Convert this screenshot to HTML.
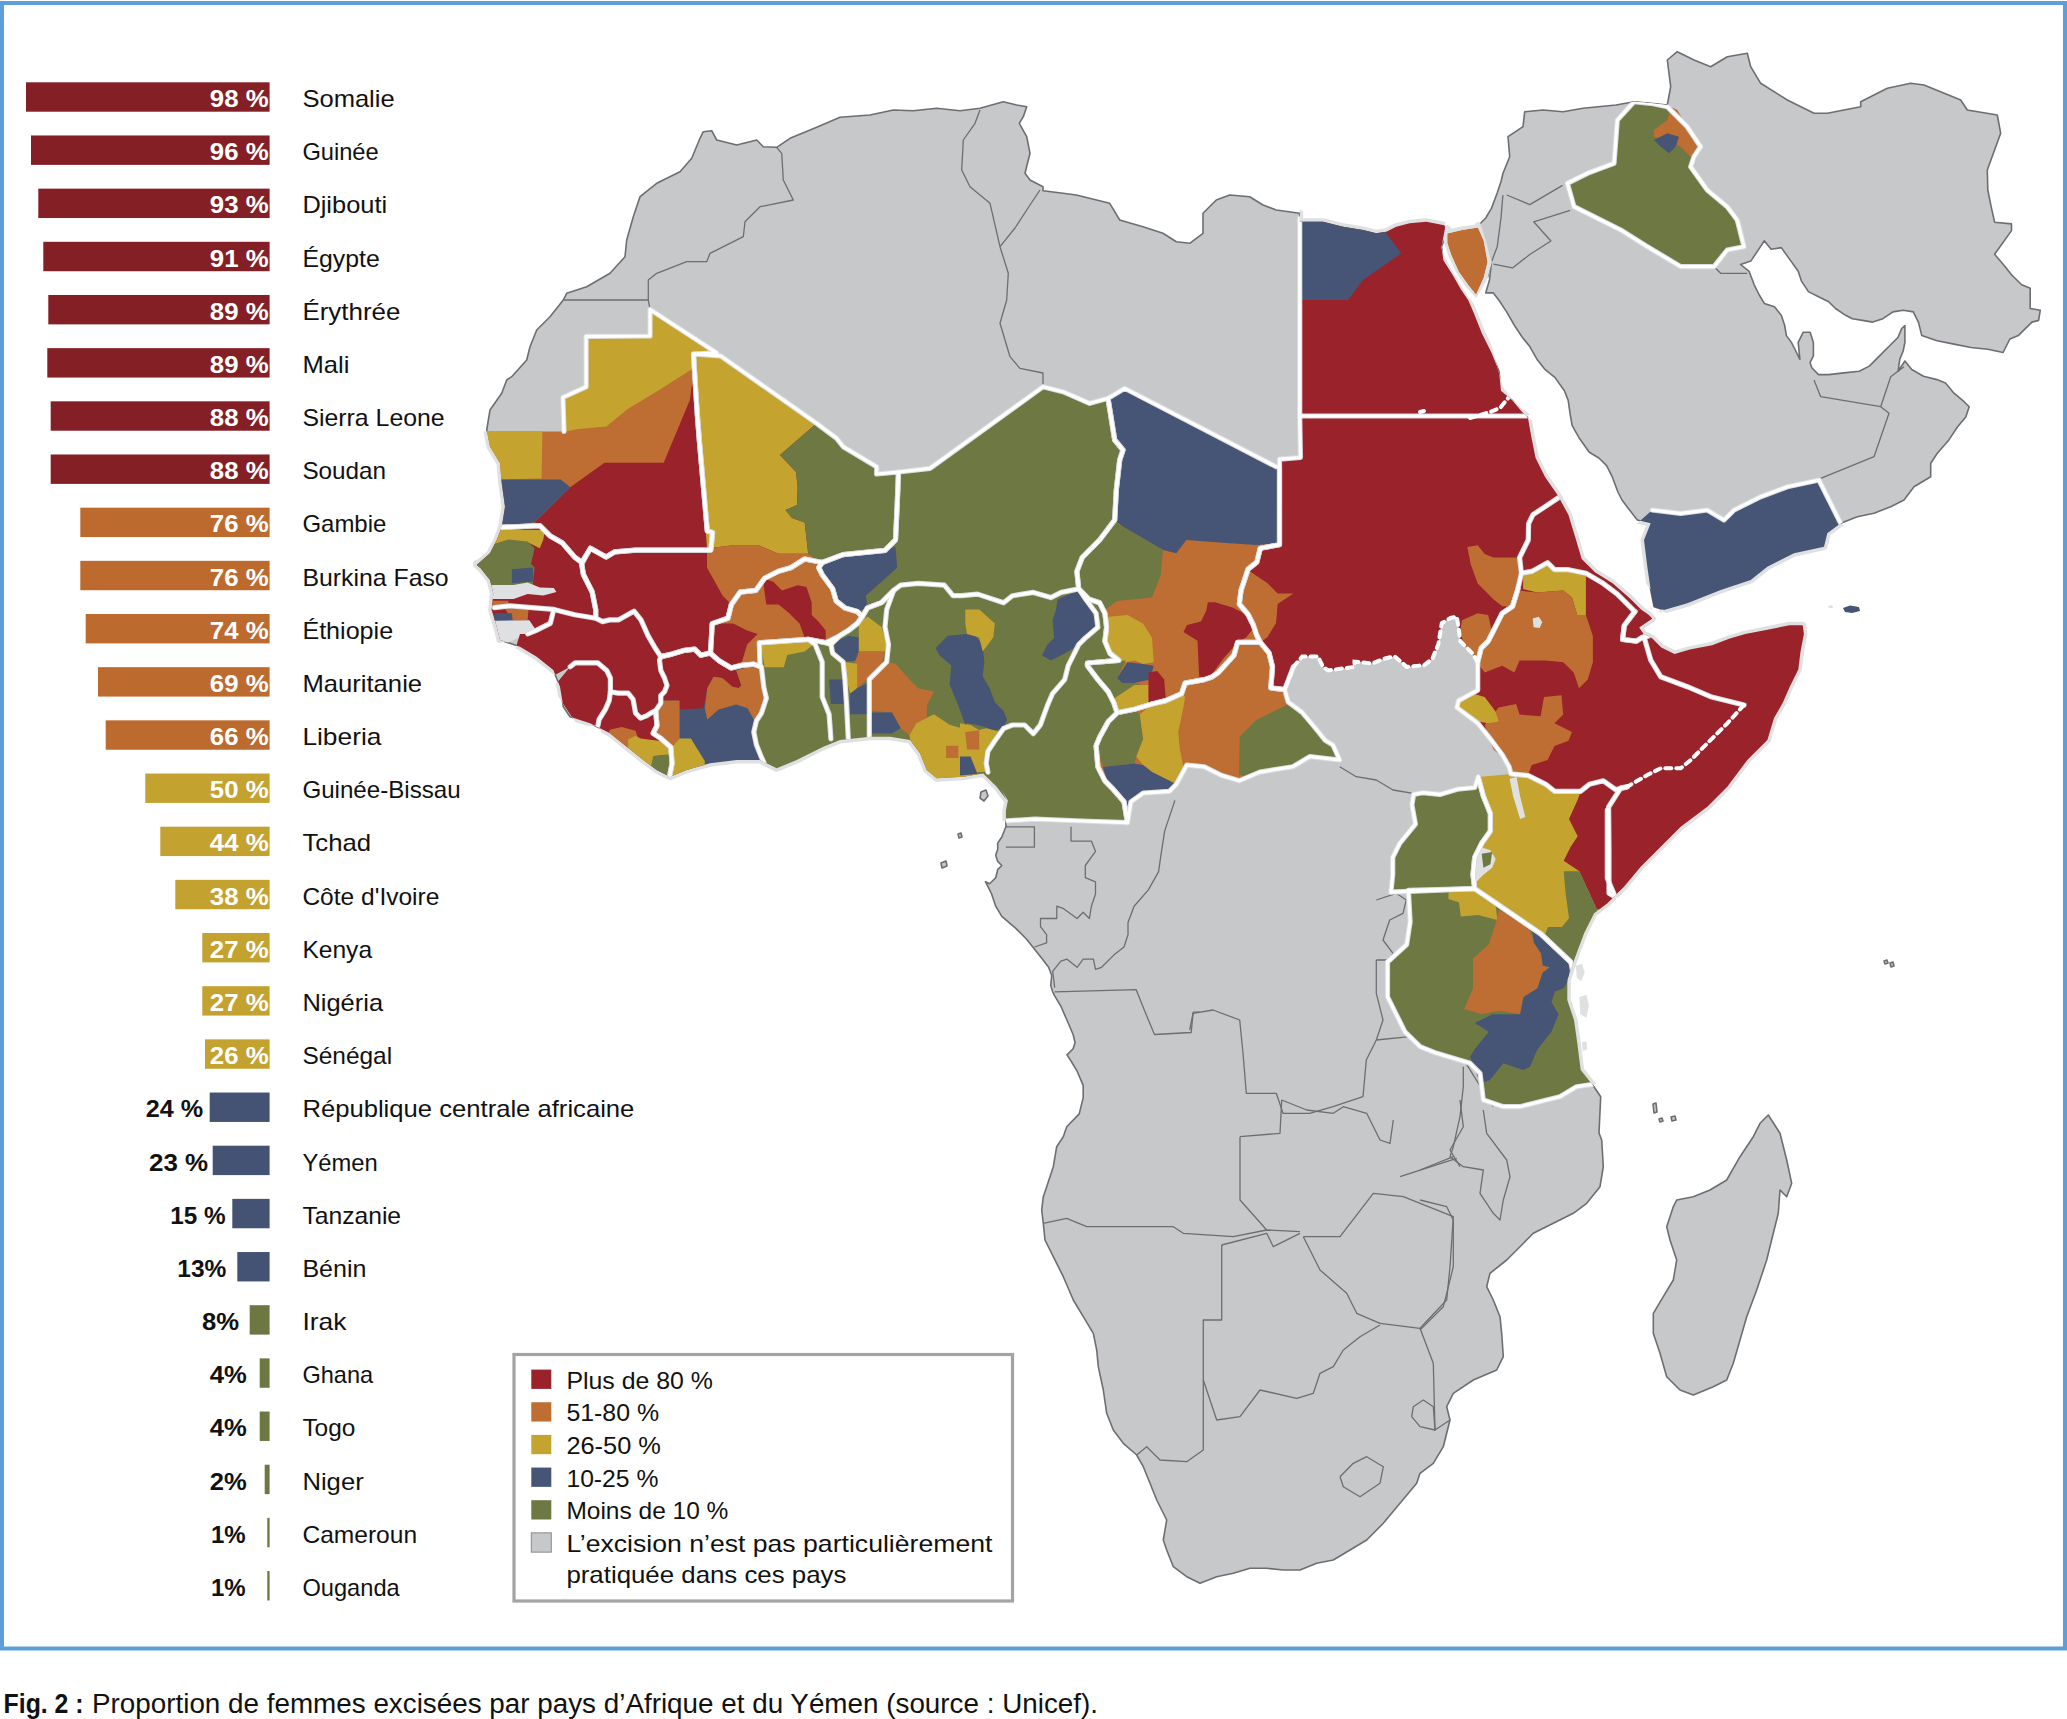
<!DOCTYPE html>
<html><head><meta charset="utf-8"><title>Excision</title>
<style>html,body{margin:0;padding:0;background:#fff;width:2067px;height:1719px;overflow:hidden;font-family:"Liberation Sans",sans-serif}</style>
</head><body>
<svg xmlns="http://www.w3.org/2000/svg" width="2067" height="1719" viewBox="0 0 2067 1719" style="position:absolute;left:0;top:0">
<rect x="0" y="0" width="2067" height="1719" fill="#ffffff"/>
<rect x="2" y="3" width="2063" height="1645.5" fill="none" stroke="#5e9edb" stroke-width="4"/>
<g id="map">
<defs>
<clipPath id="landclip"><path d="M703.3,131.7 L711.7,130.7 L716.7,140.0 L736.7,145.0 L756.7,140.0 L763.3,146.7 L776.7,147.3 L790.0,138.3 L816.7,127.3 L840.0,117.3 L870.0,115.0 L893.3,110.0 L913.3,110.7 L936.7,108.3 L960.0,110.7 L980.0,108.3 L1003.3,101.7 L1016.7,105.0 L1026.7,106.7 L1023.3,116.7 L1019.3,123.3 L1026.7,136.7 L1030.0,153.3 L1025.0,173.3 L1030.0,180.0 L1043.0,186.7 L1043.0,190.7 L1063.0,193.3 L1076.3,195.0 L1109.7,203.3 L1119.7,220.0 L1143.0,226.7 L1163.0,233.3 L1176.3,241.7 L1189.7,243.3 L1203.0,233.3 L1203.0,213.3 L1216.3,200.0 L1229.7,195.0 L1249.7,196.7 L1263.0,205.0 L1276.3,210.0 L1299.7,213.3 L1299.7,221.7 L1323.0,221.7 L1343.0,226.7 L1363.0,230.0 L1376.3,233.3 L1386.3,231.7 L1396.3,226.7 L1409.7,223.3 L1426.3,221.7 L1443.0,225.0 L1448.0,230.0 L1441.5,246.8 L1443.4,260.2 L1453.0,275.6 L1460.7,289.0 L1468.4,300.5 L1474.2,314.0 L1481.8,333.2 L1491.4,352.4 L1499.1,371.6 L1501.0,390.8 L1512.5,400.4 L1522.1,411.9 L1527.9,417.7 L1531.7,438.8 L1535.6,458.0 L1545.2,477.2 L1557.4,494.8 L1568.4,514.7 L1575.1,536.8 L1581.7,559.0 L1595.0,572.2 L1612.6,583.3 L1630.3,598.7 L1641.4,609.8 L1648.0,614.2 L1652.4,618.6 L1639.2,627.5 L1643.6,634.1 L1652.4,638.5 L1661.3,647.4 L1674.5,654.0 L1690.0,649.6 L1712.1,645.2 L1729.8,638.5 L1745.3,634.1 L1767.4,629.7 L1789.5,625.3 L1802.7,625.3 L1803.9,634.1 L1800.5,651.8 L1798.3,669.5 L1789.5,687.2 L1782.9,702.6 L1774.0,718.1 L1767.4,740.0 L1747.3,760.0 L1727.3,786.7 L1707.3,806.7 L1680.7,826.7 L1660.7,846.7 L1640.7,866.7 L1624.0,886.7 L1607.3,903.3 L1594.0,913.3 L1584.0,933.3 L1574.0,960.0 L1567.3,980.0 L1567.3,1000.0 L1574.0,1020.0 L1577.3,1043.3 L1580.7,1070.0 L1594.0,1086.7 L1600.7,1096.7 L1599.0,1133.0 L1601.7,1140.0 L1603.3,1166.7 L1600.0,1186.7 L1586.7,1203.3 L1573.3,1213.3 L1553.3,1223.3 L1533.3,1233.3 L1520.0,1246.7 L1506.7,1260.0 L1490.0,1273.3 L1486.7,1286.7 L1493.3,1300.0 L1500.0,1316.7 L1501.7,1333.3 L1503.3,1356.7 L1496.7,1370.0 L1473.3,1380.0 L1453.3,1393.3 L1446.7,1406.7 L1450.0,1420.0 L1443.3,1446.7 L1433.3,1463.3 L1420.0,1473.3 L1416.7,1483.3 L1400.0,1503.3 L1383.3,1523.3 L1366.7,1540.0 L1350.0,1550.0 L1333.3,1560.0 L1316.7,1563.3 L1300.0,1570.0 L1283.3,1570.0 L1266.7,1568.3 L1250.0,1568.3 L1233.3,1573.3 L1216.7,1576.7 L1200.0,1583.3 L1186.7,1576.7 L1173.3,1566.7 L1166.7,1550.0 L1163.3,1540.0 L1166.7,1520.0 L1156.7,1500.0 L1150.0,1483.3 L1143.3,1466.7 L1136.7,1455.0 L1123.3,1443.3 L1113.3,1430.0 L1106.7,1413.3 L1103.3,1390.0 L1098.3,1366.7 L1096.7,1350.0 L1093.3,1333.3 L1083.3,1316.7 L1073.3,1300.0 L1063.3,1276.7 L1053.3,1256.7 L1045.0,1240.0 L1043.3,1223.3 L1041.7,1210.0 L1043.3,1196.7 L1046.7,1186.7 L1053.3,1166.7 L1056.7,1146.7 L1063.3,1136.7 L1066.7,1126.7 L1079.2,1113.9 L1083.2,1097.6 L1083.2,1085.4 L1077.1,1071.2 L1071.0,1061.0 L1067.0,1054.9 L1073.1,1048.8 L1075.1,1042.7 L1073.1,1034.5 L1067.0,1020.3 L1060.8,1006.0 L1054.7,995.8 L1052.7,991.8 L1050.7,985.6 L1051.7,975.5 L1048.6,967.3 L1042.5,959.2 L1034.4,949.0 L1026.2,938.8 L1016.1,928.6 L1001.8,916.4 L995.7,906.2 L991.6,894.0 L987.6,885.9 L985.5,881.8 L989.6,883.8 L995.7,877.7 L997.7,869.6 L1001.8,865.5 L997.7,861.4 L995.7,855.3 L997.7,849.2 L997.7,843.1 L1001.8,837.0 L1005.9,826.8 L1005.9,820.7 L1005.9,810.5 L1007.9,800.4 L1001.8,790.2 L1006.7,800.0 L996.7,786.7 L990.0,780.0 L983.3,773.3 L963.3,776.7 L936.7,778.3 L926.7,770.0 L920.0,753.3 L910.0,740.0 L890.0,736.7 L870.0,736.7 L840.0,740.0 L823.3,746.7 L796.7,760.0 L776.7,768.3 L760.0,760.0 L736.7,760.0 L710.0,763.3 L686.7,770.0 L670.0,776.7 L656.7,770.0 L643.3,760.0 L626.7,746.7 L610.0,733.3 L590.0,723.3 L570.0,716.7 L563.3,706.7 L560.0,686.7 L553.3,670.0 L536.7,656.7 L520.0,646.7 L500.0,640.0 L496.7,626.7 L491.7,610.0 L493.3,593.3 L490.0,580.0 L476.7,563.3 L486.7,573.3 L476.7,565.0 L490.0,553.3 L496.7,540.0 L501.7,527.3 L505.0,506.7 L501.7,483.3 L500.0,463.3 L490.0,446.7 L486.7,430.0 L490.0,410.0 L501.7,393.3 L506.7,380.0 L511.7,376.7 L526.7,360.0 L530.0,346.7 L536.7,330.0 L550.0,316.7 L563.3,300.0 L566.7,293.3 L586.7,286.7 L610.0,273.3 L625.0,256.7 L626.7,240.0 L633.3,216.7 L640.0,196.7 L656.7,183.3 L680.0,171.7 L691.7,158.3 L700.0,138.3 Z M1478.0,225.7 L1485.7,218.0 L1491.4,208.4 L1497.2,193.0 L1501.0,181.5 L1503.0,173.3 L1509.7,156.7 L1508.0,136.7 L1523.0,126.7 L1524.7,111.7 L1543.0,110.0 L1563.0,111.7 L1583.0,108.3 L1616.0,105.0 L1634.0,101.7 L1650.7,103.3 L1667.3,105.0 L1670.7,86.7 L1667.3,60.0 L1677.3,51.7 L1694.0,60.0 L1710.7,66.7 L1727.3,56.7 L1747.3,53.3 L1750.7,66.7 L1760.7,83.3 L1787.3,100.0 L1814.0,113.3 L1827.3,113.3 L1860.7,106.7 L1860.7,101.7 L1887.3,88.3 L1910.7,83.3 L1924.0,85.0 L1960.7,100.0 L1967.3,110.0 L1997.3,115.0 L2000.7,133.3 L1987.3,170.0 L1987.8,190.0 L1991.2,206.9 L1994.6,222.2 L2011.5,223.9 L2011.5,230.6 L1994.6,254.3 L2004.8,266.2 L2011.5,274.7 L2021.7,284.8 L2030.2,288.2 L2030.2,308.5 L2040.3,310.2 L2038.6,320.4 L2031.9,322.1 L2018.3,335.6 L2009.9,339.0 L2003.1,352.5 L1987.8,349.2 L1970.9,347.5 L1954.0,344.1 L1937.0,340.7 L1921.8,335.6 L1918.4,322.1 L1913.3,311.9 L1903.2,310.2 L1893.0,311.9 L1882.9,318.7 L1872.7,322.1 L1862.5,320.4 L1852.4,318.7 L1845.6,315.3 L1835.5,308.5 L1828.7,301.8 L1818.5,296.7 L1808.4,291.6 L1801.6,281.4 L1798.2,271.3 L1789.7,259.4 L1781.3,247.6 L1771.1,249.3 L1764.3,240.8 L1761.0,245.9 L1750.8,261.1 L1740.6,264.5 L1749.1,271.3 L1754.2,284.8 L1759.3,295.0 L1764.3,303.4 L1774.5,306.8 L1781.3,315.3 L1784.7,325.5 L1786.4,335.6 L1791.4,342.4 L1796.5,352.5 L1799.9,359.3 L1798.2,342.4 L1803.3,332.2 L1810.1,332.2 L1813.4,342.4 L1813.4,355.9 L1810.1,362.7 L1811.8,367.8 L1818.5,374.6 L1828.7,374.6 L1843.9,372.9 L1859.2,371.2 L1869.3,366.1 L1879.5,355.9 L1889.6,345.8 L1898.1,337.3 L1901.5,328.8 L1904.9,325.5 L1904.9,342.4 L1903.2,350.9 L1899.8,359.3 L1898.1,371.2 L1904.9,361.0 L1911.7,369.5 L1923.5,376.3 L1937.0,379.6 L1945.5,383.0 L1954.0,393.2 L1964.1,401.7 L1969.2,406.7 L1965.8,416.9 L1957.4,427.0 L1948.9,439.9 L1937.3,453.3 L1930.7,463.3 L1930.7,476.7 L1914.0,486.7 L1904.0,500.0 L1890.7,506.7 L1874.0,513.3 L1857.3,516.7 L1840.7,523.3 L1827.3,533.3 L1824.0,546.7 L1794.0,553.3 L1767.3,566.7 L1750.7,580.0 L1720.7,590.0 L1687.3,603.3 L1664.0,610.0 L1654.0,606.7 L1650.7,590.0 L1647.3,566.7 L1644.0,540.0 L1650.7,523.3 L1637.3,520.0 L1628.0,508.0 L1622.0,500.0 L1618.1,492.5 L1612.4,477.2 L1606.6,465.6 L1598.9,458.0 L1589.3,452.2 L1579.7,438.8 L1572.1,425.3 L1570.1,413.8 L1568.2,400.4 L1564.4,390.8 L1554.8,377.4 L1545.2,369.7 L1537.5,360.1 L1529.8,346.6 L1522.1,337.0 L1514.5,325.5 L1506.8,312.1 L1499.1,300.5 L1493.4,292.9 L1485.7,292.9 L1489.5,280.0 L1491.4,262.1 L1484.0,240.0 Z M1447.3,233.4 L1462.0,230.0 L1478.0,227.6 L1483.8,241.0 L1487.6,262.1 L1483.8,277.5 L1476.1,294.8 L1468.4,285.2 L1458.8,271.7 L1451.1,254.5 L1447.3,243.0 Z"/></clipPath>
</defs>
<path d="M703.3,131.7 L711.7,130.7 L716.7,140.0 L736.7,145.0 L756.7,140.0 L763.3,146.7 L776.7,147.3 L790.0,138.3 L816.7,127.3 L840.0,117.3 L870.0,115.0 L893.3,110.0 L913.3,110.7 L936.7,108.3 L960.0,110.7 L980.0,108.3 L1003.3,101.7 L1016.7,105.0 L1026.7,106.7 L1023.3,116.7 L1019.3,123.3 L1026.7,136.7 L1030.0,153.3 L1025.0,173.3 L1030.0,180.0 L1043.0,186.7 L1043.0,190.7 L1063.0,193.3 L1076.3,195.0 L1109.7,203.3 L1119.7,220.0 L1143.0,226.7 L1163.0,233.3 L1176.3,241.7 L1189.7,243.3 L1203.0,233.3 L1203.0,213.3 L1216.3,200.0 L1229.7,195.0 L1249.7,196.7 L1263.0,205.0 L1276.3,210.0 L1299.7,213.3 L1299.7,221.7 L1323.0,221.7 L1343.0,226.7 L1363.0,230.0 L1376.3,233.3 L1386.3,231.7 L1396.3,226.7 L1409.7,223.3 L1426.3,221.7 L1443.0,225.0 L1448.0,230.0 L1441.5,246.8 L1443.4,260.2 L1453.0,275.6 L1460.7,289.0 L1468.4,300.5 L1474.2,314.0 L1481.8,333.2 L1491.4,352.4 L1499.1,371.6 L1501.0,390.8 L1512.5,400.4 L1522.1,411.9 L1527.9,417.7 L1531.7,438.8 L1535.6,458.0 L1545.2,477.2 L1557.4,494.8 L1568.4,514.7 L1575.1,536.8 L1581.7,559.0 L1595.0,572.2 L1612.6,583.3 L1630.3,598.7 L1641.4,609.8 L1648.0,614.2 L1652.4,618.6 L1639.2,627.5 L1643.6,634.1 L1652.4,638.5 L1661.3,647.4 L1674.5,654.0 L1690.0,649.6 L1712.1,645.2 L1729.8,638.5 L1745.3,634.1 L1767.4,629.7 L1789.5,625.3 L1802.7,625.3 L1803.9,634.1 L1800.5,651.8 L1798.3,669.5 L1789.5,687.2 L1782.9,702.6 L1774.0,718.1 L1767.4,740.0 L1747.3,760.0 L1727.3,786.7 L1707.3,806.7 L1680.7,826.7 L1660.7,846.7 L1640.7,866.7 L1624.0,886.7 L1607.3,903.3 L1594.0,913.3 L1584.0,933.3 L1574.0,960.0 L1567.3,980.0 L1567.3,1000.0 L1574.0,1020.0 L1577.3,1043.3 L1580.7,1070.0 L1594.0,1086.7 L1600.7,1096.7 L1599.0,1133.0 L1601.7,1140.0 L1603.3,1166.7 L1600.0,1186.7 L1586.7,1203.3 L1573.3,1213.3 L1553.3,1223.3 L1533.3,1233.3 L1520.0,1246.7 L1506.7,1260.0 L1490.0,1273.3 L1486.7,1286.7 L1493.3,1300.0 L1500.0,1316.7 L1501.7,1333.3 L1503.3,1356.7 L1496.7,1370.0 L1473.3,1380.0 L1453.3,1393.3 L1446.7,1406.7 L1450.0,1420.0 L1443.3,1446.7 L1433.3,1463.3 L1420.0,1473.3 L1416.7,1483.3 L1400.0,1503.3 L1383.3,1523.3 L1366.7,1540.0 L1350.0,1550.0 L1333.3,1560.0 L1316.7,1563.3 L1300.0,1570.0 L1283.3,1570.0 L1266.7,1568.3 L1250.0,1568.3 L1233.3,1573.3 L1216.7,1576.7 L1200.0,1583.3 L1186.7,1576.7 L1173.3,1566.7 L1166.7,1550.0 L1163.3,1540.0 L1166.7,1520.0 L1156.7,1500.0 L1150.0,1483.3 L1143.3,1466.7 L1136.7,1455.0 L1123.3,1443.3 L1113.3,1430.0 L1106.7,1413.3 L1103.3,1390.0 L1098.3,1366.7 L1096.7,1350.0 L1093.3,1333.3 L1083.3,1316.7 L1073.3,1300.0 L1063.3,1276.7 L1053.3,1256.7 L1045.0,1240.0 L1043.3,1223.3 L1041.7,1210.0 L1043.3,1196.7 L1046.7,1186.7 L1053.3,1166.7 L1056.7,1146.7 L1063.3,1136.7 L1066.7,1126.7 L1079.2,1113.9 L1083.2,1097.6 L1083.2,1085.4 L1077.1,1071.2 L1071.0,1061.0 L1067.0,1054.9 L1073.1,1048.8 L1075.1,1042.7 L1073.1,1034.5 L1067.0,1020.3 L1060.8,1006.0 L1054.7,995.8 L1052.7,991.8 L1050.7,985.6 L1051.7,975.5 L1048.6,967.3 L1042.5,959.2 L1034.4,949.0 L1026.2,938.8 L1016.1,928.6 L1001.8,916.4 L995.7,906.2 L991.6,894.0 L987.6,885.9 L985.5,881.8 L989.6,883.8 L995.7,877.7 L997.7,869.6 L1001.8,865.5 L997.7,861.4 L995.7,855.3 L997.7,849.2 L997.7,843.1 L1001.8,837.0 L1005.9,826.8 L1005.9,820.7 L1005.9,810.5 L1007.9,800.4 L1001.8,790.2 L1006.7,800.0 L996.7,786.7 L990.0,780.0 L983.3,773.3 L963.3,776.7 L936.7,778.3 L926.7,770.0 L920.0,753.3 L910.0,740.0 L890.0,736.7 L870.0,736.7 L840.0,740.0 L823.3,746.7 L796.7,760.0 L776.7,768.3 L760.0,760.0 L736.7,760.0 L710.0,763.3 L686.7,770.0 L670.0,776.7 L656.7,770.0 L643.3,760.0 L626.7,746.7 L610.0,733.3 L590.0,723.3 L570.0,716.7 L563.3,706.7 L560.0,686.7 L553.3,670.0 L536.7,656.7 L520.0,646.7 L500.0,640.0 L496.7,626.7 L491.7,610.0 L493.3,593.3 L490.0,580.0 L476.7,563.3 L486.7,573.3 L476.7,565.0 L490.0,553.3 L496.7,540.0 L501.7,527.3 L505.0,506.7 L501.7,483.3 L500.0,463.3 L490.0,446.7 L486.7,430.0 L490.0,410.0 L501.7,393.3 L506.7,380.0 L511.7,376.7 L526.7,360.0 L530.0,346.7 L536.7,330.0 L550.0,316.7 L563.3,300.0 L566.7,293.3 L586.7,286.7 L610.0,273.3 L625.0,256.7 L626.7,240.0 L633.3,216.7 L640.0,196.7 L656.7,183.3 L680.0,171.7 L691.7,158.3 L700.0,138.3 Z" fill="#c7c8ca" stroke="#6d6e71" stroke-width="1.6" stroke-linejoin="round"/>
<path d="M1478.0,225.7 L1485.7,218.0 L1491.4,208.4 L1497.2,193.0 L1501.0,181.5 L1503.0,173.3 L1509.7,156.7 L1508.0,136.7 L1523.0,126.7 L1524.7,111.7 L1543.0,110.0 L1563.0,111.7 L1583.0,108.3 L1616.0,105.0 L1634.0,101.7 L1650.7,103.3 L1667.3,105.0 L1670.7,86.7 L1667.3,60.0 L1677.3,51.7 L1694.0,60.0 L1710.7,66.7 L1727.3,56.7 L1747.3,53.3 L1750.7,66.7 L1760.7,83.3 L1787.3,100.0 L1814.0,113.3 L1827.3,113.3 L1860.7,106.7 L1860.7,101.7 L1887.3,88.3 L1910.7,83.3 L1924.0,85.0 L1960.7,100.0 L1967.3,110.0 L1997.3,115.0 L2000.7,133.3 L1987.3,170.0 L1987.8,190.0 L1991.2,206.9 L1994.6,222.2 L2011.5,223.9 L2011.5,230.6 L1994.6,254.3 L2004.8,266.2 L2011.5,274.7 L2021.7,284.8 L2030.2,288.2 L2030.2,308.5 L2040.3,310.2 L2038.6,320.4 L2031.9,322.1 L2018.3,335.6 L2009.9,339.0 L2003.1,352.5 L1987.8,349.2 L1970.9,347.5 L1954.0,344.1 L1937.0,340.7 L1921.8,335.6 L1918.4,322.1 L1913.3,311.9 L1903.2,310.2 L1893.0,311.9 L1882.9,318.7 L1872.7,322.1 L1862.5,320.4 L1852.4,318.7 L1845.6,315.3 L1835.5,308.5 L1828.7,301.8 L1818.5,296.7 L1808.4,291.6 L1801.6,281.4 L1798.2,271.3 L1789.7,259.4 L1781.3,247.6 L1771.1,249.3 L1764.3,240.8 L1761.0,245.9 L1750.8,261.1 L1740.6,264.5 L1749.1,271.3 L1754.2,284.8 L1759.3,295.0 L1764.3,303.4 L1774.5,306.8 L1781.3,315.3 L1784.7,325.5 L1786.4,335.6 L1791.4,342.4 L1796.5,352.5 L1799.9,359.3 L1798.2,342.4 L1803.3,332.2 L1810.1,332.2 L1813.4,342.4 L1813.4,355.9 L1810.1,362.7 L1811.8,367.8 L1818.5,374.6 L1828.7,374.6 L1843.9,372.9 L1859.2,371.2 L1869.3,366.1 L1879.5,355.9 L1889.6,345.8 L1898.1,337.3 L1901.5,328.8 L1904.9,325.5 L1904.9,342.4 L1903.2,350.9 L1899.8,359.3 L1898.1,371.2 L1904.9,361.0 L1911.7,369.5 L1923.5,376.3 L1937.0,379.6 L1945.5,383.0 L1954.0,393.2 L1964.1,401.7 L1969.2,406.7 L1965.8,416.9 L1957.4,427.0 L1948.9,439.9 L1937.3,453.3 L1930.7,463.3 L1930.7,476.7 L1914.0,486.7 L1904.0,500.0 L1890.7,506.7 L1874.0,513.3 L1857.3,516.7 L1840.7,523.3 L1827.3,533.3 L1824.0,546.7 L1794.0,553.3 L1767.3,566.7 L1750.7,580.0 L1720.7,590.0 L1687.3,603.3 L1664.0,610.0 L1654.0,606.7 L1650.7,590.0 L1647.3,566.7 L1644.0,540.0 L1650.7,523.3 L1637.3,520.0 L1628.0,508.0 L1622.0,500.0 L1618.1,492.5 L1612.4,477.2 L1606.6,465.6 L1598.9,458.0 L1589.3,452.2 L1579.7,438.8 L1572.1,425.3 L1570.1,413.8 L1568.2,400.4 L1564.4,390.8 L1554.8,377.4 L1545.2,369.7 L1537.5,360.1 L1529.8,346.6 L1522.1,337.0 L1514.5,325.5 L1506.8,312.1 L1499.1,300.5 L1493.4,292.9 L1485.7,292.9 L1489.5,280.0 L1491.4,262.1 L1484.0,240.0 Z" fill="#c7c8ca" stroke="#6d6e71" stroke-width="1.6" stroke-linejoin="round"/>
<path d="M1768.3,1115.0 L1780.0,1133.3 L1786.7,1160.0 L1791.7,1183.3 L1786.7,1196.7 L1780.0,1190.0 L1778.3,1213.3 L1773.3,1233.3 L1766.7,1260.0 L1756.7,1290.0 L1746.7,1316.7 L1740.0,1340.0 L1733.3,1363.3 L1726.7,1380.0 L1713.3,1386.7 L1693.3,1395.0 L1680.0,1390.0 L1666.7,1376.7 L1660.0,1353.3 L1653.3,1333.3 L1653.3,1313.3 L1663.3,1296.7 L1673.3,1280.0 L1676.7,1260.0 L1670.0,1240.0 L1666.7,1226.7 L1673.3,1206.7 L1676.7,1200.0 L1693.3,1196.7 L1710.0,1190.0 L1726.7,1180.0 L1740.0,1156.7 L1753.3,1136.7 L1760.0,1123.3 Z" fill="#c7c8ca" stroke="#6d6e71" stroke-width="1.6" stroke-linejoin="round"/>
<path d="M1447.3,233.4 L1462.0,230.0 L1478.0,227.6 L1483.8,241.0 L1487.6,262.1 L1483.8,277.5 L1476.1,294.8 L1468.4,285.2 L1458.8,271.7 L1451.1,254.5 L1447.3,243.0 Z" fill="#c7c8ca" stroke="#6d6e71" stroke-width="1.6" stroke-linejoin="round"/>
<path d="M981.0,792.0 L986.0,790.0 L988.0,796.0 L984.0,801.0 L980.0,798.0 Z" fill="#c7c8ca" stroke="#6d6e71" stroke-width="1.6" stroke-linejoin="round"/>
<path d="M958.0,834.0 L961.0,833.0 L962.0,837.0 L959.0,838.0 Z" fill="#c7c8ca" stroke="#6d6e71" stroke-width="1.6" stroke-linejoin="round"/>
<path d="M941.0,863.0 L946.0,861.0 L947.0,866.0 L942.0,868.0 Z" fill="#c7c8ca" stroke="#6d6e71" stroke-width="1.6" stroke-linejoin="round"/>
<path d="M1653.0,1104.0 L1656.0,1103.0 L1657.0,1112.0 L1654.0,1113.0 Z" fill="#c7c8ca" stroke="#6d6e71" stroke-width="1.6" stroke-linejoin="round"/>
<path d="M1659.0,1119.0 L1662.0,1118.0 L1663.0,1121.0 L1660.0,1122.0 Z" fill="#c7c8ca" stroke="#6d6e71" stroke-width="1.6" stroke-linejoin="round"/>
<path d="M1671.0,1117.0 L1675.0,1116.0 L1676.0,1120.0 L1672.0,1121.0 Z" fill="#c7c8ca" stroke="#6d6e71" stroke-width="1.6" stroke-linejoin="round"/>
<path d="M1884.0,961.0 L1887.0,960.0 L1888.0,963.0 L1885.0,964.0 Z" fill="#c7c8ca" stroke="#6d6e71" stroke-width="1.6" stroke-linejoin="round"/>
<path d="M1890.0,963.0 L1893.0,962.0 L1894.0,966.0 L1891.0,967.0 Z" fill="#c7c8ca" stroke="#6d6e71" stroke-width="1.6" stroke-linejoin="round"/>
<path d="M563.3,300.0 L648.3,300.0 L650.0,309.4" fill="none" stroke="#6d6e71" stroke-width="1.3" stroke-linejoin="round"/><path d="M776.7,147.3 L781.7,153.3 L783.3,180.0 L793.3,200.0 L760.0,206.7 L745.0,221.7 L743.3,236.7 L710.0,253.3 L706.7,261.7 L686.7,261.7 L656.7,273.3 L648.3,280.0 L648.3,300.0" fill="none" stroke="#6d6e71" stroke-width="1.3" stroke-linejoin="round"/><path d="M980.0,110.0 L975.0,123.3 L963.3,140.0 L961.7,170.0 L970.0,186.7 L990.0,203.3 L1000.0,246.7" fill="none" stroke="#6d6e71" stroke-width="1.3" stroke-linejoin="round"/><path d="M1000.0,246.7 L1015.0,228.0 L1030.0,205.0 L1040.0,190.0" fill="none" stroke="#6d6e71" stroke-width="1.3" stroke-linejoin="round"/><path d="M1000.0,246.7 L1008.3,273.3 L1006.7,300.0 L1000.0,323.3 L1010.0,356.7 L1020.0,368.3 L1043.0,373.0 L1043.0,386.7" fill="none" stroke="#6d6e71" stroke-width="1.3" stroke-linejoin="round"/><path d="M1502.9,195.0 L1501.0,218.0 L1497.2,246.8 L1491.4,262.1 L1487.6,277.5" fill="none" stroke="#6d6e71" stroke-width="1.3" stroke-linejoin="round"/><path d="M1493.4,264.1 L1512.5,267.9 L1529.8,254.5 L1550.9,241.0 L1533.7,221.8 L1570.1,210.3" fill="none" stroke="#6d6e71" stroke-width="1.3" stroke-linejoin="round"/><path d="M1506.8,195.0 L1529.8,204.6 L1562.5,185.4" fill="none" stroke="#6d6e71" stroke-width="1.3" stroke-linejoin="round"/><path d="M1714.0,266.7 L1720.7,273.3 L1747.3,273.3" fill="none" stroke="#6d6e71" stroke-width="1.3" stroke-linejoin="round"/><path d="M1814.0,380.0 L1820.7,396.7 L1880.7,406.7" fill="none" stroke="#6d6e71" stroke-width="1.3" stroke-linejoin="round"/><path d="M1880.7,406.7 L1890.7,376.7 L1904.0,366.7" fill="none" stroke="#6d6e71" stroke-width="1.3" stroke-linejoin="round"/><path d="M1880.7,406.7 L1889.0,413.3 L1874.0,456.7 L1820.7,478.3" fill="none" stroke="#6d6e71" stroke-width="1.3" stroke-linejoin="round"/><path d="M1005.9,826.8 L1034.4,826.8 L1034.4,847.2 L1005.9,847.2" fill="none" stroke="#6d6e71" stroke-width="1.3" stroke-linejoin="round"/><path d="M1071.0,826.8 L1071.0,841.1 L1091.4,841.1 L1095.5,851.3 L1085.3,865.5 L1085.3,877.7 L1095.5,881.8 L1095.5,894.0 L1091.4,906.2 L1089.4,918.5 L1083.2,912.3 L1077.1,918.5 L1062.9,908.3 L1056.8,906.2 L1056.8,918.5 L1040.5,918.5 L1040.5,926.6 L1046.6,934.7 L1046.6,942.9 L1034.4,947.0" fill="none" stroke="#6d6e71" stroke-width="1.3" stroke-linejoin="round"/><path d="M1174.9,800.4 L1164.7,830.9 L1160.6,857.4 L1158.6,871.6 L1148.4,889.9 L1134.1,906.2 L1128.0,922.5 L1128.0,934.7 L1124.0,947.0 L1113.8,955.1 L1101.6,967.3 L1095.5,969.4 L1093.4,959.2 L1083.2,959.2 L1077.1,967.3 L1067.0,959.2 L1060.8,961.2 L1052.7,971.4 L1054.7,987.7" fill="none" stroke="#6d6e71" stroke-width="1.3" stroke-linejoin="round"/><path d="M1054.7,991.8 L1136.2,989.7 L1144.3,1010.1 L1154.5,1034.5 L1191.2,1032.5 L1193.2,1012.1 L1199.9,1012.1" fill="none" stroke="#6d6e71" stroke-width="1.3" stroke-linejoin="round"/><path d="M1189.7,1030.0 L1193.0,1013.3 L1213.0,1010.0 L1239.7,1020.0 L1243.0,1053.3 L1246.3,1093.3 L1276.3,1093.3 L1283.0,1113.3 L1309.7,1113.3 L1333.0,1106.7 L1363.0,1096.7" fill="none" stroke="#6d6e71" stroke-width="1.3" stroke-linejoin="round"/><path d="M1339.7,766.7 L1356.3,776.7 L1376.3,780.0 L1393.0,790.0 L1413.0,793.3" fill="none" stroke="#6d6e71" stroke-width="1.3" stroke-linejoin="round"/><path d="M1376.3,900.0 L1396.3,893.3 L1406.3,900.0 L1403.0,913.3 L1389.7,920.0 L1383.0,940.0 L1393.0,953.3 L1389.7,960.0 L1376.3,960.0" fill="none" stroke="#6d6e71" stroke-width="1.3" stroke-linejoin="round"/><path d="M1376.3,1040.0 L1409.7,1036.7 L1459.7,1053.3 L1493.0,1106.7" fill="none" stroke="#6d6e71" stroke-width="1.3" stroke-linejoin="round"/><path d="M1363.0,1096.7 L1366.3,1060.0 L1376.3,1040.0 L1383.0,1020.0 L1376.3,993.3 L1376.3,960.0" fill="none" stroke="#6d6e71" stroke-width="1.3" stroke-linejoin="round"/><path d="M1043.3,1223.3 L1066.7,1218.3 L1086.7,1226.7 L1173.3,1226.7 L1183.3,1233.3 L1233.3,1236.7 L1266.7,1230.0 L1300.0,1231.7" fill="none" stroke="#6d6e71" stroke-width="1.3" stroke-linejoin="round"/><path d="M1221.7,1245.0 L1221.7,1320.0 L1203.3,1320.0 L1203.3,1450.0 L1186.7,1461.7 L1160.0,1460.0 L1146.7,1446.7 L1136.7,1455.0" fill="none" stroke="#6d6e71" stroke-width="1.3" stroke-linejoin="round"/><path d="M1221.7,1245.0 L1266.7,1233.3 L1273.3,1246.7 L1300.0,1233.3" fill="none" stroke="#6d6e71" stroke-width="1.3" stroke-linejoin="round"/><path d="M1203.3,1380.0 L1216.7,1420.0 L1240.0,1416.7 L1260.0,1390.0 L1296.7,1398.3 L1313.3,1393.3 L1320.0,1373.3 L1333.3,1366.7 L1343.3,1350.0 L1360.0,1336.7 L1380.0,1325.0" fill="none" stroke="#6d6e71" stroke-width="1.3" stroke-linejoin="round"/><path d="M1303.3,1236.7 L1320.0,1270.0 L1346.7,1293.3 L1356.7,1313.3 L1380.0,1323.3" fill="none" stroke="#6d6e71" stroke-width="1.3" stroke-linejoin="round"/><path d="M1380.0,1323.3 L1420.0,1328.3 L1446.7,1300.0 L1450.0,1266.7 L1453.3,1216.7 L1403.3,1196.7 L1373.3,1193.3 L1340.0,1236.7 L1303.3,1236.7" fill="none" stroke="#6d6e71" stroke-width="1.3" stroke-linejoin="round"/><path d="M1240.0,1136.7 L1280.0,1133.3 L1281.7,1100.0" fill="none" stroke="#6d6e71" stroke-width="1.3" stroke-linejoin="round"/><path d="M1240.0,1136.7 L1240.0,1200.0 L1266.7,1230.0" fill="none" stroke="#6d6e71" stroke-width="1.3" stroke-linejoin="round"/><path d="M1400.0,1176.7 L1456.7,1158.3" fill="none" stroke="#6d6e71" stroke-width="1.3" stroke-linejoin="round"/><path d="M1420.0,1328.3 L1433.3,1363.3 L1435.0,1430.0 L1450.0,1420.0" fill="none" stroke="#6d6e71" stroke-width="1.3" stroke-linejoin="round"/><path d="M1340.0,1476.7 L1353.3,1463.3 L1366.7,1456.7 L1383.3,1466.7 L1380.0,1483.3 L1360.0,1496.7 L1343.3,1486.7 L1340.0,1476.7" fill="none" stroke="#6d6e71" stroke-width="1.3" stroke-linejoin="round"/><path d="M1413.3,1406.7 L1423.3,1400.0 L1433.3,1406.7 L1435.0,1430.0 L1420.0,1426.7 L1411.7,1416.7 L1413.3,1406.7" fill="none" stroke="#6d6e71" stroke-width="1.3" stroke-linejoin="round"/><path d="M1281.7,1100.0 L1306.7,1110.0 L1333.3,1113.3 L1343.3,1106.7 L1366.7,1113.3 L1380.0,1140.0 L1390.0,1143.3 L1393.3,1120.0" fill="none" stroke="#6d6e71" stroke-width="1.3" stroke-linejoin="round"/><path d="M1460.0,1100.0 L1463.3,1126.7 L1450.0,1150.0 L1460.0,1166.7" fill="none" stroke="#6d6e71" stroke-width="1.3" stroke-linejoin="round"/><path d="M1463.3,1066.7 L1463.3,1086.7 L1460.0,1116.7 L1453.3,1146.7 L1450.0,1156.7 L1463.3,1166.7 L1483.3,1170.0 L1480.0,1193.3 L1493.3,1213.3 L1500.0,1220.0 L1503.3,1200.0 L1510.0,1176.7 L1506.7,1160.0 L1486.7,1133.3 L1483.3,1110.0" fill="none" stroke="#6d6e71" stroke-width="1.3" stroke-linejoin="round"/><path d="M1420.0,1170.0 L1453.3,1156.7" fill="none" stroke="#6d6e71" stroke-width="1.3" stroke-linejoin="round"/><path d="M1420.0,1200.0 L1446.7,1206.7 L1453.3,1220.0 L1453.3,1266.7 L1446.7,1293.3 L1443.3,1306.7 L1420.0,1330.0" fill="none" stroke="#6d6e71" stroke-width="1.3" stroke-linejoin="round"/>
<defs><clipPath id="haloclip"><path d="M465.0,431.4 L564.0,431.4 L562.9,397.4 L586.1,386.8 L586.1,336.4 L650.0,336.0 L650.0,309.4 L716.7,352.9 L693.5,354.0 L695.5,386.8 L697.4,415.8 L699.3,440.0 L707.3,530.9 L712.6,532.6 L710.8,550.1 L635.8,550.1 L614.9,551.8 L606.1,557.1 L590.4,548.3 L581.7,562.3 L574.7,557.1 L562.5,543.1 L550.3,536.1 L539.8,525.7 L499.7,527.4 L465.0,527.4 Z M499.7,527.4 L539.8,525.7 L550.3,536.1 L562.5,543.1 L574.7,557.1 L581.7,562.3 L581.7,564.0 L583.4,574.5 L592.2,592.0 L595.7,609.4 L595.7,618.2 L574.7,614.7 L553.8,609.4 L510.1,605.9 L494.4,607.7 L470.0,607.7 L470.0,527.4 Z M494.4,607.7 L510.1,605.9 L553.8,609.4 L550.3,623.4 L536.3,630.4 L527.6,633.9 L496.2,644.3 L470.0,644.3 L470.0,607.7 Z M553.8,609.4 L574.7,614.7 L595.7,618.2 L602.6,621.6 L609.6,619.9 L618.3,619.9 L634.0,611.2 L641.0,619.9 L648.0,635.6 L655.0,647.8 L660.8,656.6 L659.5,660.4 L660.8,670.4 L664.5,678.0 L667.0,685.5 L664.5,691.8 L660.8,695.6 L660.8,703.1 L655.7,710.7 L650.7,713.2 L646.9,715.7 L640.6,718.2 L635.6,713.2 L633.1,699.4 L628.1,693.1 L618.0,693.1 L610.4,691.8 L610.4,678.0 L606.7,670.4 L597.9,662.9 L575.2,662.9 L570.2,666.7 L555.0,675.0 L515.0,650.0 L520.0,634.0 L527.6,633.9 L536.3,630.4 L550.3,623.4 Z M570.2,666.7 L575.2,662.9 L597.9,662.9 L606.7,670.4 L610.4,678.0 L610.4,691.8 L609.2,700.6 L605.4,709.4 L599.1,719.5 L597.9,725.8 L577.7,725.8 L552.6,688.0 Z M610.4,691.8 L618.0,693.1 L628.1,693.1 L633.1,699.4 L635.6,713.2 L640.6,718.2 L646.9,715.7 L650.7,713.2 L655.7,710.7 L657.0,725.8 L653.2,733.3 L660.8,738.4 L670.8,747.2 L672.1,763.5 L669.6,776.1 L669.6,782.4 L628.1,782.4 L597.9,725.8 L599.1,719.5 L605.4,709.4 L609.2,700.6 Z M660.8,656.6 L672.1,654.1 L684.7,650.3 L694.7,649.1 L701.0,655.3 L709.8,652.8 L718.6,660.4 L731.2,667.9 L741.3,665.4 L753.8,664.2 L760.1,666.7 L761.4,666.7 L763.9,688.0 L766.4,698.1 L761.4,713.2 L756.4,720.8 L753.8,732.1 L756.4,744.7 L761.4,757.2 L763.9,762.3 L764.0,790.0 L669.6,790.0 L669.6,776.1 L672.1,763.5 L670.8,747.2 L660.8,738.4 L653.2,733.3 L657.0,725.8 L655.7,710.7 L660.8,703.1 L660.8,695.6 L664.5,691.8 L667.0,685.5 L664.5,678.0 L660.8,670.4 L659.5,660.4 Z M759.3,642.8 L808.2,639.3 L815.2,644.5 L822.2,662.0 L822.2,696.9 L829.1,714.3 L830.9,738.8 L832.0,775.0 L763.9,775.0 L763.9,762.3 L761.4,757.2 L756.4,744.7 L753.8,732.1 L756.4,720.8 L761.4,713.2 L766.4,698.1 L763.9,688.0 L761.4,666.7 L760.1,642.8 Z M808.2,639.3 L825.7,642.8 L830.9,644.5 L832.6,653.2 L843.1,662.0 L844.9,679.4 L846.6,705.6 L848.3,738.8 L848.3,765.0 L830.9,765.0 L830.9,738.8 L829.1,714.3 L822.2,696.9 L822.2,662.0 L815.2,644.5 Z M830.9,644.5 L839.6,635.8 L848.3,630.6 L857.1,623.6 L862.3,616.6 L867.5,607.9 L881.5,602.6 L892.0,592.2 L893.7,590.4 L886.7,609.6 L885.0,627.1 L888.5,644.5 L886.7,662.0 L878.0,670.7 L869.3,679.4 L869.3,735.3 L869.3,765.0 L848.3,765.0 L848.3,738.8 L846.6,705.6 L844.9,679.4 L843.1,662.0 L832.6,653.2 Z M893.7,590.4 L900.7,585.2 L918.2,583.4 L944.3,585.2 L953.0,595.7 L961.8,595.7 L977.5,594.1 L1003.6,602.8 L1012.4,595.8 L1033.3,592.4 L1050.8,597.6 L1061.2,592.4 L1078.7,588.9 L1085.7,599.3 L1096.1,613.3 L1097.9,627.3 L1085.7,637.7 L1078.7,644.7 L1068.2,665.7 L1064.7,679.6 L1052.5,693.6 L1047.3,705.8 L1040.3,725.0 L1033.3,733.7 L1024.6,725.0 L1012.4,725.0 L1003.6,728.5 L994.9,740.7 L987.9,751.2 L986.2,763.4 L987.9,772.1 L990.0,795.0 L869.3,795.0 L869.3,760.0 L869.3,679.4 L878.0,670.7 L886.7,662.0 L888.5,644.5 L885.0,627.1 L886.7,609.6 Z M1078.7,588.9 L1089.1,599.3 L1099.6,602.8 L1104.9,613.3 L1106.6,627.3 L1104.9,641.2 L1110.1,653.4 L1118.8,660.4 L1087.4,663.0 L1087.4,665.7 L1097.9,679.6 L1108.3,691.8 L1113.6,702.3 L1117.1,712.8 L1108.3,721.5 L1099.6,737.2 L1096.1,745.9 L1097.9,766.9 L1104.9,780.8 L1111.8,787.8 L1124.0,801.8 L1127.5,822.7 L1082.2,821.0 L1035.0,819.2 L1003.6,821.0 L977.5,821.0 L977.5,772.1 L987.9,772.1 L986.2,763.4 L987.9,751.2 L994.9,740.7 L1003.6,728.5 L1012.4,725.0 L1024.6,725.0 L1033.3,733.7 L1040.3,725.0 L1047.3,705.8 L1052.5,693.6 L1064.7,679.6 L1068.2,665.7 L1078.7,644.7 L1085.7,637.7 L1097.9,627.3 L1096.1,613.3 L1085.7,599.3 Z M1299.7,416.0 L1526.3,416.0 L1545.0,430.0 L1575.0,480.0 L1559.6,497.0 L1546.3,505.9 L1533.0,514.7 L1528.6,523.6 L1528.3,540.0 L1519.6,557.5 L1521.4,573.2 L1517.9,588.9 L1512.6,606.3 L1502.2,613.3 L1495.2,627.3 L1488.2,641.2 L1481.2,648.2 L1477.7,662.2 L1472.5,653.4 L1460.3,641.2 L1458.5,627.3 L1456.8,616.8 L1450.5,618.0 L1441.8,623.2 L1438.3,644.2 L1432.4,658.7 L1424.3,665.1 L1406.9,666.9 L1394.7,656.4 L1385.9,658.2 L1372.0,663.4 L1354.5,661.6 L1354.5,666.9 L1328.3,670.4 L1323.1,666.9 L1317.9,656.4 L1302.2,656.4 L1293.4,666.9 L1284.7,689.6 L1270.8,687.8 L1272.5,666.9 L1269.0,652.9 L1260.3,642.4 L1256.8,635.5 L1253.3,625.0 L1248.1,614.5 L1239.3,604.0 L1241.1,590.1 L1244.6,579.6 L1248.1,569.1 L1256.8,562.2 L1260.3,548.2 L1279.5,544.7 L1279.5,459.2 L1300.4,457.5 Z M1299.7,190.0 L1299.7,416.0 L1526.3,416.0 L1540.0,412.0 L1523.0,410.0 L1513.0,400.0 L1503.0,386.7 L1498.0,370.0 L1493.0,350.0 L1486.3,330.0 L1476.3,306.7 L1468.0,296.7 L1459.7,283.3 L1449.7,266.7 L1441.3,248.3 L1445.0,228.0 L1450.0,190.0 Z M1440.0,225.0 L1462.0,225.0 L1480.0,222.0 L1486.0,241.0 L1492.0,262.1 L1487.0,280.0 L1476.1,298.0 L1466.0,287.0 L1456.0,272.0 L1448.0,255.0 L1444.0,243.0 Z M1559.6,497.0 L1546.3,505.9 L1533.0,514.7 L1528.6,523.6 L1528.3,540.0 L1519.6,557.5 L1521.4,573.2 L1531.8,571.4 L1547.5,562.7 L1554.5,569.7 L1568.5,569.7 L1585.9,573.2 L1603.4,583.6 L1617.3,594.1 L1629.6,606.3 L1634.8,611.6 L1660.0,600.0 L1600.0,530.0 L1575.0,480.0 Z M1634.8,611.6 L1624.3,625.5 L1622.6,639.5 L1636.5,641.2 L1641.8,637.7 L1648.0,636.3 L1665.0,630.0 L1660.0,600.0 Z M1644.0,636.7 L1650.7,660.0 L1660.7,676.7 L1687.3,686.7 L1710.7,696.7 L1744.0,705.0 L1727.3,723.3 L1707.3,743.3 L1690.7,760.0 L1680.7,768.3 L1660.7,768.3 L1647.3,775.0 L1627.3,786.7 L1620.8,787.8 L1608.6,807.0 L1609.0,850.0 L1609.0,893.3 L1620.7,900.0 L1700.0,900.0 L1850.0,640.0 L1830.0,610.0 L1700.0,630.0 L1660.0,610.0 Z M1478.2,777.0 L1510.9,773.9 L1528.3,775.6 L1545.8,784.3 L1554.5,791.3 L1580.7,791.3 L1589.4,784.3 L1603.4,780.8 L1615.6,789.6 L1624.3,787.8 L1607.3,810.1 L1607.3,878.2 L1616.1,899.1 L1631.8,909.6 L1596.9,979.4 L1570.7,962.0 L1541.0,934.0 L1474.7,888.7 L1473.0,874.7 L1474.7,857.3 L1481.7,843.3 L1490.4,831.1 L1490.4,813.6 L1483.4,796.2 Z M1408.4,890.4 L1474.7,888.7 L1541.0,934.0 L1570.7,962.0 L1596.9,962.0 L1640.0,1050.0 L1640.0,1083.3 L1600.0,1083.3 L1576.7,1086.7 L1560.0,1096.7 L1546.7,1100.0 L1520.0,1106.7 L1503.3,1106.7 L1483.3,1100.0 L1480.0,1073.3 L1470.0,1063.3 L1436.7,1053.3 L1420.0,1046.7 L1404.9,1031.8 L1387.5,996.9 L1387.5,962.0 L1406.6,944.5 L1410.1,921.8 Z M1634.0,101.7 L1650.7,103.3 L1667.3,106.7 L1687.3,126.7 L1700.7,146.7 L1694.0,156.7 L1690.7,166.7 L1707.3,190.0 L1727.3,206.7 L1737.3,220.0 L1740.7,233.3 L1744.0,246.7 L1727.3,250.0 L1714.0,266.7 L1680.7,266.7 L1647.3,246.7 L1620.7,230.0 L1574.0,206.7 L1567.3,183.3 L1587.3,173.3 L1614.0,163.3 L1617.3,120.0 Z M1652.3,510.0 L1680.7,513.3 L1707.3,510.0 L1724.0,520.0 L1734.0,510.0 L1760.7,496.7 L1787.3,486.7 L1819.0,480.0 L1840.7,523.3 L1860.7,540.0 L1827.3,560.0 L1727.3,613.3 L1660.7,623.3 L1640.7,590.0 L1637.3,523.3 Z"/></clipPath></defs><g clip-path="url(#haloclip)"><path d="M703.3,131.7 L711.7,130.7 L716.7,140.0 L736.7,145.0 L756.7,140.0 L763.3,146.7 L776.7,147.3 L790.0,138.3 L816.7,127.3 L840.0,117.3 L870.0,115.0 L893.3,110.0 L913.3,110.7 L936.7,108.3 L960.0,110.7 L980.0,108.3 L1003.3,101.7 L1016.7,105.0 L1026.7,106.7 L1023.3,116.7 L1019.3,123.3 L1026.7,136.7 L1030.0,153.3 L1025.0,173.3 L1030.0,180.0 L1043.0,186.7 L1043.0,190.7 L1063.0,193.3 L1076.3,195.0 L1109.7,203.3 L1119.7,220.0 L1143.0,226.7 L1163.0,233.3 L1176.3,241.7 L1189.7,243.3 L1203.0,233.3 L1203.0,213.3 L1216.3,200.0 L1229.7,195.0 L1249.7,196.7 L1263.0,205.0 L1276.3,210.0 L1299.7,213.3 L1299.7,221.7 L1323.0,221.7 L1343.0,226.7 L1363.0,230.0 L1376.3,233.3 L1386.3,231.7 L1396.3,226.7 L1409.7,223.3 L1426.3,221.7 L1443.0,225.0 L1448.0,230.0 L1441.5,246.8 L1443.4,260.2 L1453.0,275.6 L1460.7,289.0 L1468.4,300.5 L1474.2,314.0 L1481.8,333.2 L1491.4,352.4 L1499.1,371.6 L1501.0,390.8 L1512.5,400.4 L1522.1,411.9 L1527.9,417.7 L1531.7,438.8 L1535.6,458.0 L1545.2,477.2 L1557.4,494.8 L1568.4,514.7 L1575.1,536.8 L1581.7,559.0 L1595.0,572.2 L1612.6,583.3 L1630.3,598.7 L1641.4,609.8 L1648.0,614.2 L1652.4,618.6 L1639.2,627.5 L1643.6,634.1 L1652.4,638.5 L1661.3,647.4 L1674.5,654.0 L1690.0,649.6 L1712.1,645.2 L1729.8,638.5 L1745.3,634.1 L1767.4,629.7 L1789.5,625.3 L1802.7,625.3 L1803.9,634.1 L1800.5,651.8 L1798.3,669.5 L1789.5,687.2 L1782.9,702.6 L1774.0,718.1 L1767.4,740.0 L1747.3,760.0 L1727.3,786.7 L1707.3,806.7 L1680.7,826.7 L1660.7,846.7 L1640.7,866.7 L1624.0,886.7 L1607.3,903.3 L1594.0,913.3 L1584.0,933.3 L1574.0,960.0 L1567.3,980.0 L1567.3,1000.0 L1574.0,1020.0 L1577.3,1043.3 L1580.7,1070.0 L1594.0,1086.7 L1600.7,1096.7 L1599.0,1133.0 L1601.7,1140.0 L1603.3,1166.7 L1600.0,1186.7 L1586.7,1203.3 L1573.3,1213.3 L1553.3,1223.3 L1533.3,1233.3 L1520.0,1246.7 L1506.7,1260.0 L1490.0,1273.3 L1486.7,1286.7 L1493.3,1300.0 L1500.0,1316.7 L1501.7,1333.3 L1503.3,1356.7 L1496.7,1370.0 L1473.3,1380.0 L1453.3,1393.3 L1446.7,1406.7 L1450.0,1420.0 L1443.3,1446.7 L1433.3,1463.3 L1420.0,1473.3 L1416.7,1483.3 L1400.0,1503.3 L1383.3,1523.3 L1366.7,1540.0 L1350.0,1550.0 L1333.3,1560.0 L1316.7,1563.3 L1300.0,1570.0 L1283.3,1570.0 L1266.7,1568.3 L1250.0,1568.3 L1233.3,1573.3 L1216.7,1576.7 L1200.0,1583.3 L1186.7,1576.7 L1173.3,1566.7 L1166.7,1550.0 L1163.3,1540.0 L1166.7,1520.0 L1156.7,1500.0 L1150.0,1483.3 L1143.3,1466.7 L1136.7,1455.0 L1123.3,1443.3 L1113.3,1430.0 L1106.7,1413.3 L1103.3,1390.0 L1098.3,1366.7 L1096.7,1350.0 L1093.3,1333.3 L1083.3,1316.7 L1073.3,1300.0 L1063.3,1276.7 L1053.3,1256.7 L1045.0,1240.0 L1043.3,1223.3 L1041.7,1210.0 L1043.3,1196.7 L1046.7,1186.7 L1053.3,1166.7 L1056.7,1146.7 L1063.3,1136.7 L1066.7,1126.7 L1079.2,1113.9 L1083.2,1097.6 L1083.2,1085.4 L1077.1,1071.2 L1071.0,1061.0 L1067.0,1054.9 L1073.1,1048.8 L1075.1,1042.7 L1073.1,1034.5 L1067.0,1020.3 L1060.8,1006.0 L1054.7,995.8 L1052.7,991.8 L1050.7,985.6 L1051.7,975.5 L1048.6,967.3 L1042.5,959.2 L1034.4,949.0 L1026.2,938.8 L1016.1,928.6 L1001.8,916.4 L995.7,906.2 L991.6,894.0 L987.6,885.9 L985.5,881.8 L989.6,883.8 L995.7,877.7 L997.7,869.6 L1001.8,865.5 L997.7,861.4 L995.7,855.3 L997.7,849.2 L997.7,843.1 L1001.8,837.0 L1005.9,826.8 L1005.9,820.7 L1005.9,810.5 L1007.9,800.4 L1001.8,790.2 L1006.7,800.0 L996.7,786.7 L990.0,780.0 L983.3,773.3 L963.3,776.7 L936.7,778.3 L926.7,770.0 L920.0,753.3 L910.0,740.0 L890.0,736.7 L870.0,736.7 L840.0,740.0 L823.3,746.7 L796.7,760.0 L776.7,768.3 L760.0,760.0 L736.7,760.0 L710.0,763.3 L686.7,770.0 L670.0,776.7 L656.7,770.0 L643.3,760.0 L626.7,746.7 L610.0,733.3 L590.0,723.3 L570.0,716.7 L563.3,706.7 L560.0,686.7 L553.3,670.0 L536.7,656.7 L520.0,646.7 L500.0,640.0 L496.7,626.7 L491.7,610.0 L493.3,593.3 L490.0,580.0 L476.7,563.3 L486.7,573.3 L476.7,565.0 L490.0,553.3 L496.7,540.0 L501.7,527.3 L505.0,506.7 L501.7,483.3 L500.0,463.3 L490.0,446.7 L486.7,430.0 L490.0,410.0 L501.7,393.3 L506.7,380.0 L511.7,376.7 L526.7,360.0 L530.0,346.7 L536.7,330.0 L550.0,316.7 L563.3,300.0 L566.7,293.3 L586.7,286.7 L610.0,273.3 L625.0,256.7 L626.7,240.0 L633.3,216.7 L640.0,196.7 L656.7,183.3 L680.0,171.7 L691.7,158.3 L700.0,138.3 Z M1478.0,225.7 L1485.7,218.0 L1491.4,208.4 L1497.2,193.0 L1501.0,181.5 L1503.0,173.3 L1509.7,156.7 L1508.0,136.7 L1523.0,126.7 L1524.7,111.7 L1543.0,110.0 L1563.0,111.7 L1583.0,108.3 L1616.0,105.0 L1634.0,101.7 L1650.7,103.3 L1667.3,105.0 L1670.7,86.7 L1667.3,60.0 L1677.3,51.7 L1694.0,60.0 L1710.7,66.7 L1727.3,56.7 L1747.3,53.3 L1750.7,66.7 L1760.7,83.3 L1787.3,100.0 L1814.0,113.3 L1827.3,113.3 L1860.7,106.7 L1860.7,101.7 L1887.3,88.3 L1910.7,83.3 L1924.0,85.0 L1960.7,100.0 L1967.3,110.0 L1997.3,115.0 L2000.7,133.3 L1987.3,170.0 L1987.8,190.0 L1991.2,206.9 L1994.6,222.2 L2011.5,223.9 L2011.5,230.6 L1994.6,254.3 L2004.8,266.2 L2011.5,274.7 L2021.7,284.8 L2030.2,288.2 L2030.2,308.5 L2040.3,310.2 L2038.6,320.4 L2031.9,322.1 L2018.3,335.6 L2009.9,339.0 L2003.1,352.5 L1987.8,349.2 L1970.9,347.5 L1954.0,344.1 L1937.0,340.7 L1921.8,335.6 L1918.4,322.1 L1913.3,311.9 L1903.2,310.2 L1893.0,311.9 L1882.9,318.7 L1872.7,322.1 L1862.5,320.4 L1852.4,318.7 L1845.6,315.3 L1835.5,308.5 L1828.7,301.8 L1818.5,296.7 L1808.4,291.6 L1801.6,281.4 L1798.2,271.3 L1789.7,259.4 L1781.3,247.6 L1771.1,249.3 L1764.3,240.8 L1761.0,245.9 L1750.8,261.1 L1740.6,264.5 L1749.1,271.3 L1754.2,284.8 L1759.3,295.0 L1764.3,303.4 L1774.5,306.8 L1781.3,315.3 L1784.7,325.5 L1786.4,335.6 L1791.4,342.4 L1796.5,352.5 L1799.9,359.3 L1798.2,342.4 L1803.3,332.2 L1810.1,332.2 L1813.4,342.4 L1813.4,355.9 L1810.1,362.7 L1811.8,367.8 L1818.5,374.6 L1828.7,374.6 L1843.9,372.9 L1859.2,371.2 L1869.3,366.1 L1879.5,355.9 L1889.6,345.8 L1898.1,337.3 L1901.5,328.8 L1904.9,325.5 L1904.9,342.4 L1903.2,350.9 L1899.8,359.3 L1898.1,371.2 L1904.9,361.0 L1911.7,369.5 L1923.5,376.3 L1937.0,379.6 L1945.5,383.0 L1954.0,393.2 L1964.1,401.7 L1969.2,406.7 L1965.8,416.9 L1957.4,427.0 L1948.9,439.9 L1937.3,453.3 L1930.7,463.3 L1930.7,476.7 L1914.0,486.7 L1904.0,500.0 L1890.7,506.7 L1874.0,513.3 L1857.3,516.7 L1840.7,523.3 L1827.3,533.3 L1824.0,546.7 L1794.0,553.3 L1767.3,566.7 L1750.7,580.0 L1720.7,590.0 L1687.3,603.3 L1664.0,610.0 L1654.0,606.7 L1650.7,590.0 L1647.3,566.7 L1644.0,540.0 L1650.7,523.3 L1637.3,520.0 L1628.0,508.0 L1622.0,500.0 L1618.1,492.5 L1612.4,477.2 L1606.6,465.6 L1598.9,458.0 L1589.3,452.2 L1579.7,438.8 L1572.1,425.3 L1570.1,413.8 L1568.2,400.4 L1564.4,390.8 L1554.8,377.4 L1545.2,369.7 L1537.5,360.1 L1529.8,346.6 L1522.1,337.0 L1514.5,325.5 L1506.8,312.1 L1499.1,300.5 L1493.4,292.9 L1485.7,292.9 L1489.5,280.0 L1491.4,262.1 L1484.0,240.0 Z M1447.3,233.4 L1462.0,230.0 L1478.0,227.6 L1483.8,241.0 L1487.6,262.1 L1483.8,277.5 L1476.1,294.8 L1468.4,285.2 L1458.8,271.7 L1451.1,254.5 L1447.3,243.0 Z" fill="none" stroke="#dfe0e2" stroke-width="7" stroke-linejoin="round"/></g><path d="M1575.9,965.5 L1582.0,963.7 L1584.7,972.4 L1581.2,981.2 L1576.8,977.7 Z" fill="#dfe0e2"/><path d="M1579.4,996.9 L1586.4,995.1 L1589.0,1005.6 L1586.4,1017.8 L1580.3,1014.3 Z" fill="#dfe0e2"/><path d="M1582.0,1042.3 L1586.4,1041.4 L1587.3,1049.2 L1582.9,1051.0 Z" fill="#dfe0e2"/><path d="M1843.0,608.0 L1850.0,605.5 L1859.0,607.0 L1860.0,611.0 L1852.0,613.0 L1845.0,612.0 Z" fill="#465576"/><path d="M1828.0,606.0 L1832.0,605.0 L1833.0,608.0 L1829.0,608.0 Z" fill="#dfe0e2"/>
<g clip-path="url(#landclip)"><path d="M465.0,431.4 L564.0,431.4 L562.9,397.4 L586.1,386.8 L586.1,336.4 L650.0,336.0 L650.0,309.4 L716.7,352.9 L693.5,354.0 L695.5,386.8 L697.4,415.8 L699.3,440.0 L707.3,530.9 L712.6,532.6 L710.8,550.1 L635.8,550.1 L614.9,551.8 L606.1,557.1 L590.4,548.3 L581.7,562.3 L574.7,557.1 L562.5,543.1 L550.3,536.1 L539.8,525.7 L499.7,527.4 L465.0,527.4 Z" fill="#be6d33"/><path d="M465.0,431.4 L542.4,431.4 L541.6,478.5 L504.9,479.4 L465.0,479.4 Z" fill="#c4a32f"/><path d="M566.0,431.4 L564.0,431.4 L562.9,397.4 L586.1,386.8 L586.1,336.4 L650.0,336.0 L650.0,309.4 L716.7,352.9 L693.5,354.0 L693.0,368.4 L656.8,391.6 L627.7,409.0 L606.4,426.4 L576.4,429.3 Z" fill="#c4a32f"/><path d="M570.3,487.3 L604.4,462.8 L663.7,462.8 L673.2,440.0 L689.9,400.0 L692.5,380.0 L695.5,386.8 L697.4,415.8 L699.3,440.0 L707.3,530.9 L712.6,532.6 L710.8,550.1 L635.8,550.1 L614.9,551.8 L606.1,557.1 L590.4,548.3 L581.7,562.3 L574.7,557.1 L562.5,543.1 L550.3,536.1 L539.8,525.7 L534.6,522.2 Z" fill="#9a222a"/><path d="M465.0,479.4 L560.8,479.4 L570.3,487.3 L534.6,522.2 L499.7,527.4 L465.0,527.4 Z" fill="#465576"/><path d="M693.5,354.0 L720.6,355.8 L760.0,383.5 L816.7,423.3 L836.7,438.3 L843.3,446.7 L876.7,466.7 L876.7,474.0 L898.5,472.0 L897.2,505.0 L895.5,539.8 L885.0,550.3 L843.1,554.6 L822.2,562.5 L804.7,559.0 L790.8,567.7 L778.5,571.2 L764.6,578.2 L755.8,590.4 L740.1,592.2 L731.4,604.4 L727.9,618.3 L712.2,623.6 L710.5,653.2 L701.0,655.3 L694.7,649.1 L684.7,650.3 L672.1,654.1 L660.8,656.6 L655.0,647.8 L648.0,635.6 L641.0,619.9 L634.0,611.2 L618.3,619.9 L609.6,619.9 L602.6,621.6 L595.7,618.2 L595.7,609.4 L592.2,592.0 L583.4,574.5 L581.7,564.0 L590.4,548.3 L606.1,557.1 L614.9,551.8 L635.8,550.1 L710.8,550.1 L712.6,532.6 L707.3,530.9 L699.3,440.0 L697.4,415.8 L695.5,386.8 Z" fill="#9a222a"/><path d="M693.5,354.0 L720.6,355.8 L760.0,383.5 L816.7,423.3 L780.0,455.0 L796.0,472.0 L797.7,487.5 L797.0,505.0 L785.5,510.1 L792.0,518.0 L804.7,522.4 L808.2,553.8 L778.5,553.8 L757.6,545.0 L734.9,545.0 L707.0,548.5 L699.3,440.0 L697.4,415.8 L695.5,386.8 Z" fill="#c4a32f"/><path d="M816.7,423.3 L836.7,438.3 L843.3,446.7 L876.7,466.7 L876.7,474.0 L898.5,472.0 L897.2,505.0 L895.5,539.8 L885.0,550.3 L843.1,554.6 L822.2,562.5 L808.2,553.8 L804.7,522.4 L792.0,518.0 L785.5,510.1 L797.0,505.0 L797.7,487.5 L796.0,472.0 L780.0,455.0 Z" fill="#6e7843"/><path d="M707.0,548.5 L734.9,545.0 L757.6,545.0 L778.5,553.8 L808.2,553.8 L822.2,562.5 L804.7,559.0 L790.8,567.7 L778.5,571.2 L764.6,578.2 L755.8,590.4 L740.1,592.2 L731.4,604.4 L722.7,595.7 L707.0,567.7 Z" fill="#be6d33"/><path d="M499.7,527.4 L539.8,525.7 L550.3,536.1 L562.5,543.1 L574.7,557.1 L581.7,562.3 L581.7,564.0 L583.4,574.5 L592.2,592.0 L595.7,609.4 L595.7,618.2 L574.7,614.7 L553.8,609.4 L510.1,605.9 L494.4,607.7 L470.0,607.7 L470.0,527.4 Z" fill="#9a222a"/><path d="M487.5,529.1 L545.0,530.0 L543.3,539.6 L539.8,548.3 L529.3,543.1 L513.6,541.4 L499.7,543.1 L487.5,544.9 Z" fill="#c4a32f"/><path d="M470.0,544.9 L490.9,544.9 L508.4,539.6 L527.6,541.4 L534.6,548.3 L531.1,564.0 L534.6,567.5 L532.8,585.0 L515.4,585.0 L494.4,586.7 L470.0,586.7 Z" fill="#6e7843"/><path d="M511.9,569.3 L532.8,567.5 L533.7,581.5 L511.9,583.2 Z" fill="#465576"/><path d="M470.0,584.1 L492.7,585.0 L513.6,585.0 L527.6,582.4 L539.8,587.6 L553.8,588.1 L556.4,592.0 L543.3,595.5 L527.6,594.1 L513.6,599.0 L492.7,599.0 L470.0,599.0 Z" fill="#dfe0e2"/><path d="M470.0,600.7 L508.4,600.7 L508.4,611.2 L470.0,611.2 Z" fill="#be6d33"/><path d="M494.4,607.7 L510.1,605.9 L553.8,609.4 L550.3,623.4 L536.3,630.4 L527.6,633.9 L496.2,644.3 L470.0,644.3 L470.0,607.7 Z" fill="#9a222a"/><path d="M504.9,608.6 L528.5,609.4 L527.6,620.2 L511.9,620.2 Z" fill="#be6d33"/><path d="M494.4,613.3 L511.9,613.3 L512.8,622.0 L494.4,622.5 Z" fill="#465576"/><path d="M470.0,621.3 L529.3,620.2 L536.3,630.4 L527.6,633.9 L496.2,647.8 L470.0,647.8 Z" fill="#dfe0e2"/><path d="M553.8,609.4 L574.7,614.7 L595.7,618.2 L602.6,621.6 L609.6,619.9 L618.3,619.9 L634.0,611.2 L641.0,619.9 L648.0,635.6 L655.0,647.8 L660.8,656.6 L659.5,660.4 L660.8,670.4 L664.5,678.0 L667.0,685.5 L664.5,691.8 L660.8,695.6 L660.8,703.1 L655.7,710.7 L650.7,713.2 L646.9,715.7 L640.6,718.2 L635.6,713.2 L633.1,699.4 L628.1,693.1 L618.0,693.1 L610.4,691.8 L610.4,678.0 L606.7,670.4 L597.9,662.9 L575.2,662.9 L570.2,666.7 L555.0,675.0 L515.0,650.0 L520.0,634.0 L527.6,633.9 L536.3,630.4 L550.3,623.4 Z" fill="#9a222a"/><path d="M570.2,666.7 L575.2,662.9 L597.9,662.9 L606.7,670.4 L610.4,678.0 L610.4,691.8 L609.2,700.6 L605.4,709.4 L599.1,719.5 L597.9,725.8 L577.7,725.8 L552.6,688.0 Z" fill="#9a222a"/><path d="M610.4,691.8 L618.0,693.1 L628.1,693.1 L633.1,699.4 L635.6,713.2 L640.6,718.2 L646.9,715.7 L650.7,713.2 L655.7,710.7 L657.0,725.8 L653.2,733.3 L660.8,738.4 L670.8,747.2 L672.1,763.5 L669.6,776.1 L669.6,782.4 L628.1,782.4 L597.9,725.8 L599.1,719.5 L605.4,709.4 L609.2,700.6 Z" fill="#9a222a"/><path d="M610.4,729.6 L621.8,727.0 L635.6,730.8 L638.1,738.4 L633.1,747.2 L625.5,748.4 L615.5,740.9 L607.9,733.3 Z" fill="#be6d33"/><path d="M628.1,739.6 L635.6,735.8 L640.6,738.4 L648.2,739.6 L660.8,740.9 L670.8,748.4 L670.8,754.7 L655.7,756.0 L653.2,763.5 L649.4,768.6 L635.6,759.7 L628.1,748.4 Z" fill="#c4a32f"/><path d="M653.2,756.0 L671.4,754.1 L672.1,763.5 L669.6,778.6 L660.8,776.1 L650.7,768.6 Z" fill="#6e7843"/><path d="M660.8,656.6 L672.1,654.1 L684.7,650.3 L694.7,649.1 L701.0,655.3 L709.8,652.8 L718.6,660.4 L731.2,667.9 L741.3,665.4 L753.8,664.2 L760.1,666.7 L761.4,666.7 L763.9,688.0 L766.4,698.1 L761.4,713.2 L756.4,720.8 L753.8,732.1 L756.4,744.7 L761.4,757.2 L763.9,762.3 L764.0,790.0 L669.6,790.0 L669.6,776.1 L672.1,763.5 L670.8,747.2 L660.8,738.4 L653.2,733.3 L657.0,725.8 L655.7,710.7 L660.8,703.1 L660.8,695.6 L664.5,691.8 L667.0,685.5 L664.5,678.0 L660.8,670.4 L659.5,660.4 Z" fill="#465576"/><path d="M660.8,656.6 L672.1,654.1 L684.7,650.3 L694.7,649.1 L701.0,655.3 L709.8,652.8 L718.6,660.4 L731.2,667.9 L736.2,670.4 L741.3,685.5 L738.7,688.1 L732.5,686.8 L722.4,678.0 L713.6,676.7 L707.3,688.1 L703.5,708.2 L679.6,709.4 L678.4,700.6 L665.8,700.6 L657.6,700.6 L657.6,660.4 Z" fill="#9a222a"/><path d="M707.3,688.1 L713.6,676.7 L722.4,678.0 L732.5,686.8 L738.7,688.1 L741.3,685.5 L736.2,670.4 L753.8,665.4 L761.4,667.9 L762.6,688.1 L766.4,698.1 L761.4,713.2 L753.8,719.5 L747.5,708.2 L736.2,704.4 L718.6,709.4 L707.3,719.5 L704.8,708.2 Z" fill="#be6d33"/><path d="M660.8,700.6 L679.6,700.6 L679.6,750.9 L670.8,747.2 L660.8,738.4 L653.2,733.3 L657.0,725.8 L655.7,710.7 L660.8,703.1 Z" fill="#be6d33"/><path d="M670.8,748.4 L679.6,738.4 L690.9,738.4 L704.8,761.0 L704.8,778.6 L670.8,778.6 Z" fill="#c4a32f"/><path d="M822.2,562.5 L804.7,559.0 L790.8,567.7 L778.5,571.2 L764.6,578.2 L755.8,590.4 L740.1,592.2 L731.4,604.4 L727.9,618.3 L712.2,623.6 L710.5,653.2 L718.6,660.4 L731.2,667.9 L741.3,665.4 L753.8,664.2 L760.1,666.7 L759.3,642.8 L808.2,639.3 L825.7,642.8 L839.6,635.8 L848.3,630.6 L857.1,623.6 L862.3,616.6 L857.1,611.4 L844.9,607.9 L836.1,600.9 L832.6,588.7 L822.2,574.7 L818.7,567.7 Z" fill="#be6d33"/><path d="M762.8,578.2 L773.3,581.7 L782.0,590.4 L797.7,585.2 L806.5,586.9 L811.7,602.6 L811.7,614.9 L818.7,621.8 L825.7,630.6 L825.7,639.3 L804.7,637.5 L799.5,623.6 L789.0,613.1 L778.5,604.4 L766.3,604.4 L764.6,592.2 Z" fill="#9a222a"/><path d="M714.0,623.6 L733.2,623.6 L747.1,630.6 L757.6,634.0 L747.1,644.5 L741.9,662.0 L729.7,665.5 L710.5,653.2 L712.2,635.8 Z" fill="#9a222a"/><path d="M759.3,642.8 L808.2,639.3 L815.2,644.5 L822.2,662.0 L822.2,696.9 L829.1,714.3 L830.9,738.8 L832.0,775.0 L763.9,775.0 L763.9,762.3 L761.4,757.2 L756.4,744.7 L753.8,732.1 L756.4,720.8 L761.4,713.2 L766.4,698.1 L763.9,688.0 L761.4,666.7 L760.1,642.8 Z" fill="#6e7843"/><path d="M761.1,644.5 L808.2,641.0 L813.4,644.5 L804.7,651.5 L787.3,655.0 L783.8,667.2 L764.6,667.2 Z" fill="#c4a32f"/><path d="M808.2,639.3 L825.7,642.8 L830.9,644.5 L832.6,653.2 L843.1,662.0 L844.9,679.4 L846.6,705.6 L848.3,738.8 L848.3,765.0 L830.9,765.0 L830.9,738.8 L829.1,714.3 L822.2,696.9 L822.2,662.0 L815.2,644.5 Z" fill="#6e7843"/><path d="M829.1,679.4 L844.9,679.4 L844.9,703.9 L830.9,703.9 Z" fill="#465576"/><path d="M830.9,644.5 L839.6,635.8 L848.3,630.6 L857.1,623.6 L862.3,616.6 L867.5,607.9 L881.5,602.6 L892.0,592.2 L893.7,590.4 L886.7,609.6 L885.0,627.1 L888.5,644.5 L886.7,662.0 L878.0,670.7 L869.3,679.4 L869.3,735.3 L869.3,765.0 L848.3,765.0 L848.3,738.8 L846.6,705.6 L844.9,679.4 L843.1,662.0 L832.6,653.2 Z" fill="#6e7843"/><path d="M834.4,642.8 L848.3,635.8 L858.8,637.5 L858.8,660.2 L843.1,662.0 L834.4,655.0 Z" fill="#465576"/><path d="M858.8,623.6 L867.5,616.6 L881.5,627.1 L886.7,644.5 L885.0,651.5 L858.8,651.5 Z" fill="#c4a32f"/><path d="M858.8,651.5 L885.0,651.5 L881.5,665.5 L867.5,679.4 L857.1,688.2 L853.6,665.5 Z" fill="#be6d33"/><path d="M844.9,662.0 L857.1,663.7 L857.1,693.4 L850.1,693.4 L846.6,679.4 Z" fill="#c4a32f"/><path d="M850.1,693.4 L857.1,688.2 L867.5,682.9 L867.5,714.3 L850.1,714.3 Z" fill="#465576"/><path d="M898.5,472.0 L930.0,468.3 L1043.0,386.7 L1063.0,391.7 L1089.7,403.3 L1108.0,398.3 L1114.7,440.0 L1123.0,450.0 L1119.7,460.0 L1116.3,490.0 L1114.7,520.0 L1099.6,540.0 L1082.2,557.5 L1076.9,571.4 L1078.7,588.9 L1061.2,592.4 L1050.8,597.6 L1033.3,592.4 L1012.4,595.8 L1003.6,602.8 L977.5,594.1 L961.8,595.7 L953.0,595.7 L944.3,585.2 L918.2,583.4 L900.7,585.2 L893.7,590.4 L881.5,602.6 L867.5,607.9 L862.3,616.6 L857.1,611.4 L844.9,607.9 L836.1,600.9 L832.6,588.7 L822.2,574.7 L818.7,567.7 L822.2,562.5 L843.1,554.6 L885.0,550.3 L895.5,539.8 L897.2,505.0 Z" fill="#6e7843"/><path d="M822.2,562.5 L843.1,554.6 L885.0,550.3 L895.5,546.8 L897.2,567.7 L881.5,581.7 L865.8,595.7 L867.5,607.9 L857.1,611.4 L844.9,607.9 L836.1,600.9 L832.6,588.7 L822.2,574.7 L818.7,567.7 Z" fill="#465576"/><path d="M893.7,590.4 L900.7,585.2 L918.2,583.4 L944.3,585.2 L953.0,595.7 L961.8,595.7 L977.5,594.1 L1003.6,602.8 L1012.4,595.8 L1033.3,592.4 L1050.8,597.6 L1061.2,592.4 L1078.7,588.9 L1085.7,599.3 L1096.1,613.3 L1097.9,627.3 L1085.7,637.7 L1078.7,644.7 L1068.2,665.7 L1064.7,679.6 L1052.5,693.6 L1047.3,705.8 L1040.3,725.0 L1033.3,733.7 L1024.6,725.0 L1012.4,725.0 L1003.6,728.5 L994.9,740.7 L987.9,751.2 L986.2,763.4 L987.9,772.1 L990.0,795.0 L869.3,795.0 L869.3,760.0 L869.3,679.4 L878.0,670.7 L886.7,662.0 L888.5,644.5 L885.0,627.1 L886.7,609.6 Z" fill="#6e7843"/><path d="M870.2,679.4 L878.0,670.7 L886.7,662.0 L895.5,663.7 L909.4,679.4 L918.2,688.2 L933.9,691.6 L926.9,705.6 L926.9,717.8 L916.4,723.1 L909.4,735.3 L900.7,728.3 L892.0,712.6 L870.2,710.8 Z" fill="#be6d33"/><path d="M870.2,712.6 L892.0,712.6 L900.7,728.3 L892.0,733.5 L870.2,733.5 Z" fill="#465576"/><path d="M909.4,735.3 L916.4,723.1 L926.9,717.8 L933.9,714.3 L949.6,724.8 L961.8,728.3 L972.3,731.8 L986.2,728.3 L1000.0,731.8 L1000.0,784.1 L918.2,784.1 Z" fill="#c4a32f"/><path d="M960.0,723.2 L970.5,725.0 L982.7,732.0 L994.9,730.2 L998.4,740.7 L991.4,759.9 L986.2,772.1 L970.5,784.3 L960.0,784.3 Z" fill="#c4a32f"/><path d="M946.1,745.7 L958.3,745.7 L958.3,758.0 L946.1,758.0 Z" fill="#be6d33"/><path d="M965.2,732.0 L979.2,730.2 L979.2,749.4 L967.0,749.4 Z" fill="#be6d33"/><path d="M960.0,756.4 L970.5,756.4 L977.5,773.9 L960.0,775.6 Z" fill="#465576"/><path d="M935.6,648.0 L947.8,635.8 L967.0,634.0 L974.0,634.2 L982.7,644.7 L984.4,662.2 L982.7,676.1 L989.7,688.3 L994.9,702.3 L1003.6,711.0 L1007.1,719.8 L1003.6,728.5 L994.9,730.2 L977.5,725.0 L967.0,723.2 L965.3,724.8 L958.3,705.6 L949.6,684.6 L951.3,665.5 L939.1,655.0 Z" fill="#465576"/><path d="M965.3,609.6 L979.2,609.6 L994.9,623.6 L993.2,637.5 L982.7,651.5 L979.2,637.5 L967.0,634.0 L965.3,623.6 Z" fill="#c4a32f"/><path d="M1057.7,599.3 L1078.7,590.6 L1085.7,599.3 L1096.1,613.3 L1097.9,627.3 L1085.7,637.7 L1073.4,648.2 L1064.7,653.4 L1050.8,660.4 L1042.0,655.2 L1047.3,644.7 L1054.2,637.7 L1052.5,620.3 L1056.0,609.8 Z" fill="#465576"/><path d="M1078.7,588.9 L1089.1,599.3 L1099.6,602.8 L1104.9,613.3 L1106.6,627.3 L1104.9,641.2 L1110.1,653.4 L1118.8,660.4 L1087.4,663.0 L1087.4,665.7 L1097.9,679.6 L1108.3,691.8 L1113.6,702.3 L1117.1,712.8 L1108.3,721.5 L1099.6,737.2 L1096.1,745.9 L1097.9,766.9 L1104.9,780.8 L1111.8,787.8 L1124.0,801.8 L1127.5,822.7 L1082.2,821.0 L1035.0,819.2 L1003.6,821.0 L977.5,821.0 L977.5,772.1 L987.9,772.1 L986.2,763.4 L987.9,751.2 L994.9,740.7 L1003.6,728.5 L1012.4,725.0 L1024.6,725.0 L1033.3,733.7 L1040.3,725.0 L1047.3,705.8 L1052.5,693.6 L1064.7,679.6 L1068.2,665.7 L1078.7,644.7 L1085.7,637.7 L1097.9,627.3 L1096.1,613.3 L1085.7,599.3 Z" fill="#6e7843"/><path d="M1108.0,398.3 L1124.7,388.3 L1276.3,466.7 L1279.5,467.0 L1279.5,544.7 L1260.3,548.2 L1256.8,562.2 L1248.1,569.1 L1244.6,579.6 L1241.1,590.1 L1239.3,604.0 L1248.1,614.5 L1253.3,625.0 L1256.8,635.5 L1260.3,642.4 L1256.8,642.4 L1237.6,642.4 L1234.0,655.2 L1218.3,672.6 L1211.4,677.3 L1204.3,679.6 L1185.1,683.1 L1181.6,693.6 L1165.9,700.6 L1152.0,704.0 L1134.5,709.3 L1117.1,712.8 L1113.6,702.3 L1108.3,691.8 L1097.9,679.6 L1087.4,665.7 L1087.4,663.0 L1118.8,660.4 L1110.1,653.4 L1104.9,641.2 L1106.6,627.3 L1104.9,613.3 L1099.6,602.8 L1089.1,599.3 L1078.7,588.9 L1076.9,571.4 L1082.2,557.5 L1099.6,540.0 L1114.7,520.0 L1116.3,490.0 L1119.7,460.0 L1123.0,450.0 L1114.7,440.0 Z" fill="#be6d33"/><path d="M1108.0,398.3 L1124.7,388.3 L1276.3,466.7 L1279.5,467.0 L1279.5,543.3 L1256.3,545.0 L1229.7,543.3 L1186.3,540.0 L1176.3,553.3 L1163.0,550.0 L1123.0,526.7 L1114.7,520.0 L1116.3,490.0 L1119.7,460.0 L1123.0,450.0 L1114.7,440.0 Z" fill="#465576"/><path d="M1114.7,520.0 L1123.0,526.7 L1163.0,550.0 L1160.7,574.9 L1152.0,597.6 L1117.1,601.1 L1104.9,609.8 L1097.9,601.1 L1089.1,599.3 L1078.7,588.9 L1076.9,571.4 L1082.2,557.5 L1099.6,540.0 Z" fill="#6e7843"/><path d="M1108.3,616.8 L1127.5,615.0 L1143.2,623.8 L1152.0,637.7 L1153.7,662.2 L1143.2,663.9 L1134.5,660.4 L1125.8,662.2 L1118.8,660.4 L1110.1,653.4 L1106.6,641.2 L1106.6,627.3 Z" fill="#c4a32f"/><path d="M1087.4,662.2 L1125.8,660.4 L1117.1,677.9 L1122.3,683.1 L1134.5,683.1 L1148.5,686.6 L1134.5,697.1 L1113.6,702.3 L1108.3,691.8 L1097.9,679.6 L1087.4,665.7 Z" fill="#6e7843"/><path d="M1117.1,677.9 L1127.5,662.2 L1143.2,663.9 L1153.7,665.7 L1150.2,679.6 L1134.5,683.1 L1122.3,683.1 Z" fill="#465576"/><path d="M1113.6,698.8 L1134.5,684.9 L1148.5,684.9 L1148.5,704.0 L1134.5,709.3 L1117.1,712.8 Z" fill="#c4a32f"/><path d="M1148.5,672.6 L1157.2,670.9 L1164.2,679.6 L1165.9,700.6 L1148.5,704.0 Z" fill="#9a222a"/><path d="M1207.9,602.3 L1214.9,602.3 L1232.4,607.5 L1246.3,614.5 L1253.3,628.5 L1246.3,637.2 L1237.6,642.4 L1223.6,658.2 L1209.7,677.3 L1199.2,677.3 L1197.5,640.7 L1183.5,632.0 L1187.0,625.0 L1200.9,621.5 L1206.2,611.0 Z" fill="#9a222a"/><path d="M1117.1,712.8 L1134.5,709.3 L1152.0,704.0 L1165.9,700.6 L1181.6,693.6 L1185.1,683.1 L1204.3,679.6 L1211.4,677.3 L1218.3,672.6 L1234.0,655.2 L1237.6,642.4 L1256.8,642.4 L1260.3,642.4 L1269.0,652.9 L1272.5,666.9 L1270.8,687.8 L1284.7,689.6 L1288.2,701.8 L1302.2,712.3 L1310.9,722.7 L1319.6,733.2 L1324.9,740.0 L1333.0,745.0 L1339.7,760.0 L1309.7,756.7 L1293.0,766.7 L1260.0,772.1 L1239.2,780.8 L1221.8,775.6 L1204.3,766.9 L1186.9,765.1 L1176.4,784.3 L1169.4,791.3 L1143.2,793.1 L1131.0,801.8 L1127.5,822.7 L1124.0,801.8 L1111.8,787.8 L1104.9,780.8 L1097.9,766.9 L1096.1,745.9 L1099.6,737.2 L1108.3,721.5 Z" fill="#be6d33"/><path d="M1117.1,712.8 L1134.5,709.3 L1139.8,714.5 L1143.2,739.0 L1136.3,756.4 L1134.5,763.4 L1103.1,766.9 L1097.9,749.4 L1099.6,737.2 L1108.3,721.5 Z" fill="#6e7843"/><path d="M1139.8,714.5 L1152.0,704.0 L1165.9,700.6 L1181.6,693.6 L1185.1,697.1 L1183.4,707.5 L1178.2,732.0 L1179.9,749.4 L1183.4,766.9 L1176.4,784.3 L1169.4,780.8 L1152.0,772.1 L1143.2,765.1 L1136.3,756.4 L1143.2,739.0 Z" fill="#c4a32f"/><path d="M1103.1,766.9 L1134.5,763.4 L1143.2,765.1 L1152.0,772.1 L1169.4,780.8 L1176.4,784.3 L1169.4,791.3 L1143.2,793.1 L1131.0,801.8 L1127.5,812.3 L1117.1,791.3 L1106.6,780.8 Z" fill="#465576"/><path d="M1239.7,736.7 L1256.3,720.0 L1289.7,703.3 L1302.2,712.3 L1310.9,722.7 L1319.6,733.2 L1324.9,740.0 L1333.0,745.0 L1339.7,760.0 L1309.7,756.7 L1293.0,766.7 L1249.7,776.7 L1239.0,775.0 Z" fill="#6e7843"/><path d="M1299.7,416.0 L1526.3,416.0 L1545.0,430.0 L1575.0,480.0 L1559.6,497.0 L1546.3,505.9 L1533.0,514.7 L1528.6,523.6 L1528.3,540.0 L1519.6,557.5 L1521.4,573.2 L1517.9,588.9 L1512.6,606.3 L1502.2,613.3 L1495.2,627.3 L1488.2,641.2 L1481.2,648.2 L1477.7,662.2 L1472.5,653.4 L1460.3,641.2 L1458.5,627.3 L1456.8,616.8 L1450.5,618.0 L1441.8,623.2 L1438.3,644.2 L1432.4,658.7 L1424.3,665.1 L1406.9,666.9 L1394.7,656.4 L1385.9,658.2 L1372.0,663.4 L1354.5,661.6 L1354.5,666.9 L1328.3,670.4 L1323.1,666.9 L1317.9,656.4 L1302.2,656.4 L1293.4,666.9 L1284.7,689.6 L1270.8,687.8 L1272.5,666.9 L1269.0,652.9 L1260.3,642.4 L1256.8,635.5 L1253.3,625.0 L1248.1,614.5 L1239.3,604.0 L1241.1,590.1 L1244.6,579.6 L1248.1,569.1 L1256.8,562.2 L1260.3,548.2 L1279.5,544.7 L1279.5,459.2 L1300.4,457.5 Z" fill="#9a222a"/><path d="M1246.3,569.1 L1267.3,583.1 L1277.7,593.6 L1293.4,593.6 L1277.7,604.0 L1276.0,623.2 L1267.3,637.2 L1260.3,642.4 L1256.8,635.5 L1253.3,625.0 L1248.1,614.5 L1239.3,604.0 L1241.1,590.1 L1244.6,579.6 Z" fill="#be6d33"/><path d="M1467.3,547.0 L1477.7,545.2 L1484.7,554.0 L1493.4,557.5 L1519.6,557.5 L1517.9,588.9 L1512.6,606.3 L1502.2,606.3 L1493.4,599.3 L1477.7,583.6 L1470.8,564.4 Z" fill="#be6d33"/><path d="M1462.0,620.3 L1477.7,613.3 L1488.2,615.0 L1491.7,630.8 L1481.2,648.2 L1477.7,662.2 L1474.2,656.9 L1463.8,644.7 L1460.3,630.8 Z" fill="#be6d33"/><path d="M1299.7,190.0 L1299.7,416.0 L1526.3,416.0 L1540.0,412.0 L1523.0,410.0 L1513.0,400.0 L1503.0,386.7 L1498.0,370.0 L1493.0,350.0 L1486.3,330.0 L1476.3,306.7 L1468.0,296.7 L1459.7,283.3 L1449.7,266.7 L1441.3,248.3 L1445.0,228.0 L1450.0,190.0 Z" fill="#9a222a"/><path d="M1299.7,190.0 L1384.0,190.0 L1386.3,233.3 L1401.3,253.3 L1363.0,280.0 L1348.0,300.0 L1299.7,300.0 Z" fill="#465576"/><path d="M1447.3,233.4 L1462.0,230.0 L1478.0,227.6 L1483.8,241.0 L1487.6,262.1 L1483.8,277.5 L1476.1,294.8 L1468.4,285.2 L1458.8,271.7 L1451.1,254.5 L1447.3,243.0 Z" fill="#be6d33"/><path d="M1559.6,497.0 L1546.3,505.9 L1533.0,514.7 L1528.6,523.6 L1528.3,540.0 L1519.6,557.5 L1521.4,573.2 L1531.8,571.4 L1547.5,562.7 L1554.5,569.7 L1568.5,569.7 L1585.9,573.2 L1603.4,583.6 L1617.3,594.1 L1629.6,606.3 L1634.8,611.6 L1660.0,600.0 L1600.0,530.0 L1575.0,480.0 Z" fill="#9a222a"/><path d="M1634.8,611.6 L1624.3,625.5 L1622.6,639.5 L1636.5,641.2 L1641.8,637.7 L1648.0,636.3 L1665.0,630.0 L1660.0,600.0 Z" fill="#9a222a"/><path d="M1521.4,573.2 L1531.8,571.4 L1547.5,562.7 L1554.5,569.7 L1568.5,569.7 L1585.9,573.2 L1603.4,583.6 L1617.3,594.1 L1629.6,606.3 L1634.8,611.6 L1624.3,625.5 L1622.6,639.5 L1636.5,641.2 L1641.8,637.7 L1644.0,636.7 L1650.7,660.0 L1660.7,676.7 L1687.3,686.7 L1710.7,696.7 L1744.0,705.0 L1727.3,723.3 L1707.3,743.3 L1690.7,760.0 L1680.7,768.3 L1660.7,768.3 L1647.3,775.0 L1627.3,786.7 L1624.3,787.8 L1615.6,789.6 L1603.4,780.8 L1589.4,784.3 L1580.7,791.3 L1554.5,791.3 L1545.8,784.3 L1528.3,775.6 L1510.9,773.9 L1509.1,766.9 L1502.2,754.7 L1491.7,740.7 L1477.7,723.2 L1456.8,707.5 L1458.5,700.6 L1477.7,690.1 L1477.7,662.2 L1481.2,648.2 L1488.2,641.2 L1495.2,627.3 L1502.2,613.3 L1512.6,606.3 L1517.9,588.9 Z" fill="#9a222a"/><path d="M1523.1,574.9 L1531.8,571.4 L1547.5,562.7 L1554.5,569.7 L1568.5,569.7 L1585.9,573.2 L1585.9,615.0 L1577.2,615.0 L1572.0,597.6 L1563.2,590.6 L1537.1,592.4 L1523.1,588.9 Z" fill="#c4a32f"/><path d="M1517.9,590.6 L1537.1,592.4 L1563.2,590.6 L1572.0,597.6 L1577.2,615.0 L1585.9,615.0 L1592.9,636.0 L1592.9,662.2 L1587.7,679.6 L1579.0,688.3 L1573.7,672.6 L1563.2,662.2 L1545.8,660.4 L1519.6,660.4 L1514.4,672.6 L1502.2,665.7 L1484.7,672.6 L1479.5,665.7 L1484.7,644.7 L1493.4,630.8 L1502.2,615.0 L1512.6,606.3 Z" fill="#be6d33"/><path d="M1498.7,707.5 L1516.1,704.0 L1519.6,714.5 L1540.6,716.3 L1544.0,697.1 L1561.5,695.3 L1563.2,714.5 L1554.5,723.2 L1572.0,732.0 L1568.5,740.7 L1554.5,745.9 L1547.5,759.9 L1531.8,765.1 L1528.3,773.9 L1510.9,773.9 L1505.7,759.9 L1493.4,749.4 L1488.2,735.5 L1484.7,725.0 Z" fill="#be6d33"/><path d="M1460.3,698.8 L1472.5,693.6 L1484.7,697.1 L1495.2,711.0 L1498.7,721.5 L1488.2,723.2 L1477.7,721.5 L1462.0,714.5 L1456.8,705.8 Z" fill="#c4a32f"/><path d="M1532.7,618.5 L1538.8,616.8 L1542.3,622.0 L1539.7,628.1 L1533.6,627.3 Z" fill="#dfe0e2"/><path d="M1644.0,636.7 L1650.7,660.0 L1660.7,676.7 L1687.3,686.7 L1710.7,696.7 L1744.0,705.0 L1727.3,723.3 L1707.3,743.3 L1690.7,760.0 L1680.7,768.3 L1660.7,768.3 L1647.3,775.0 L1627.3,786.7 L1620.8,787.8 L1608.6,807.0 L1609.0,850.0 L1609.0,893.3 L1620.7,900.0 L1700.0,900.0 L1850.0,640.0 L1830.0,610.0 L1700.0,630.0 L1660.0,610.0 Z" fill="#9a222a"/><path d="M1478.2,777.0 L1510.9,773.9 L1528.3,775.6 L1545.8,784.3 L1554.5,791.3 L1580.7,791.3 L1589.4,784.3 L1603.4,780.8 L1615.6,789.6 L1624.3,787.8 L1607.3,810.1 L1607.3,878.2 L1616.1,899.1 L1631.8,909.6 L1596.9,979.4 L1570.7,962.0 L1541.0,934.0 L1474.7,888.7 L1473.0,874.7 L1474.7,857.3 L1481.7,843.3 L1490.4,831.1 L1490.4,813.6 L1483.4,796.2 Z" fill="#c4a32f"/><path d="M1580.7,791.3 L1589.4,784.3 L1603.4,780.8 L1615.6,789.6 L1624.3,787.8 L1607.3,810.1 L1607.3,878.2 L1616.1,899.1 L1631.8,909.6 L1596.9,909.6 L1579.4,871.2 L1563.7,860.8 L1570.7,846.8 L1577.7,836.3 L1569.0,818.9 L1577.7,799.7 Z" fill="#9a222a"/><path d="M1563.7,871.2 L1579.4,871.2 L1596.9,909.6 L1600.4,927.1 L1579.4,970.7 L1570.7,962.0 L1544.5,935.8 L1548.0,927.1 L1562.0,927.1 L1569.0,918.3 L1565.5,892.2 Z" fill="#6e7843"/><path d="M1509.6,778.7 L1516.6,777.0 L1520.1,796.2 L1525.3,817.1 L1520.1,818.9 L1513.1,796.2 Z" fill="#dfe0e2"/><path d="M1473.0,852.0 L1479.9,846.8 L1490.4,850.3 L1495.7,859.0 L1492.2,867.7 L1483.4,874.7 L1476.5,881.7 L1472.1,874.7 L1474.7,864.2 Z" fill="#dfe0e2"/><path d="M1481.7,853.8 L1492.2,852.0 L1490.4,864.2 L1483.4,867.7 Z" fill="#6e7843"/><path d="M1390.9,892.2 L1392.7,874.7 L1392.7,857.3 L1399.7,843.3 L1415.4,824.1 L1411.9,804.9 L1413.6,794.4 L1422.4,792.7 L1439.8,794.4 L1457.3,789.2 L1474.7,787.5 L1478.2,777.0 L1483.4,796.2 L1490.4,813.6 L1490.4,831.1 L1481.7,843.3 L1474.7,857.3 L1473.0,874.7 L1474.7,888.7 Z" fill="#6e7843"/><path d="M1408.4,890.4 L1474.7,888.7 L1541.0,934.0 L1570.7,962.0 L1596.9,962.0 L1640.0,1050.0 L1640.0,1083.3 L1600.0,1083.3 L1576.7,1086.7 L1560.0,1096.7 L1546.7,1100.0 L1520.0,1106.7 L1503.3,1106.7 L1483.3,1100.0 L1480.0,1073.3 L1470.0,1063.3 L1436.7,1053.3 L1420.0,1046.7 L1404.9,1031.8 L1387.5,996.9 L1387.5,962.0 L1406.6,944.5 L1410.1,921.8 Z" fill="#6e7843"/><path d="M1448.5,892.2 L1473.0,890.4 L1495.7,906.1 L1497.4,920.1 L1478.2,914.9 L1460.8,916.6 L1459.0,902.6 L1448.5,899.1 Z" fill="#c4a32f"/><path d="M1499.1,909.6 L1528.8,927.1 L1534.0,942.8 L1541.0,953.2 L1542.8,965.5 L1549.8,967.2 L1542.8,972.4 L1537.5,988.2 L1523.6,996.9 L1520.1,1014.3 L1499.1,1010.8 L1481.7,1014.3 L1464.2,1009.1 L1473.0,988.2 L1473.0,958.5 L1488.7,944.5 L1495.7,923.6 Z" fill="#be6d33"/><path d="M1532.3,930.6 L1541.0,935.8 L1569.0,962.0 L1569.0,979.4 L1563.7,988.2 L1555.0,991.6 L1551.5,1002.1 L1558.5,1014.3 L1551.5,1031.8 L1537.5,1049.2 L1530.0,1066.7 L1523.3,1070.0 L1503.3,1063.3 L1490.0,1080.0 L1480.0,1083.3 L1470.0,1056.7 L1474.7,1049.2 L1488.7,1031.8 L1474.7,1023.1 L1492.2,1014.3 L1520.1,1014.3 L1523.6,996.9 L1537.5,988.2 L1542.8,972.4 L1549.8,967.2 L1542.8,965.5 L1541.0,953.2 L1534.0,942.8 Z" fill="#465576"/><path d="M1634.0,101.7 L1650.7,103.3 L1667.3,106.7 L1687.3,126.7 L1700.7,146.7 L1694.0,156.7 L1690.7,166.7 L1707.3,190.0 L1727.3,206.7 L1737.3,220.0 L1740.7,233.3 L1744.0,246.7 L1727.3,250.0 L1714.0,266.7 L1680.7,266.7 L1647.3,246.7 L1620.7,230.0 L1574.0,206.7 L1567.3,183.3 L1587.3,173.3 L1614.0,163.3 L1617.3,120.0 Z" fill="#6e7843"/><path d="M1654.0,130.0 L1667.3,120.0 L1670.7,106.7 L1677.3,110.0 L1687.3,126.7 L1700.7,146.7 L1690.7,156.7 L1680.7,146.7 L1667.3,140.0 L1654.0,136.7 Z" fill="#be6d33"/><path d="M1654.0,140.0 L1667.3,133.3 L1679.0,136.7 L1675.7,146.7 L1669.0,153.3 L1660.7,146.7 Z" fill="#465576"/><path d="M1652.3,510.0 L1680.7,513.3 L1707.3,510.0 L1724.0,520.0 L1734.0,510.0 L1760.7,496.7 L1787.3,486.7 L1819.0,480.0 L1840.7,523.3 L1860.7,540.0 L1827.3,560.0 L1727.3,613.3 L1660.7,623.3 L1640.7,590.0 L1637.3,523.3 Z" fill="#465576"/><path d="M564.0,431.4 L562.9,397.4 L586.1,386.8 L586.1,336.4 L650.0,336.0 L650.0,309.4 L716.7,352.9 L693.5,354.0 L695.5,386.8 L697.4,415.8 L699.3,440.0 L707.3,530.9 L712.6,532.6 L710.8,550.1 L635.8,550.1 L614.9,551.8 L606.1,557.1 L590.4,548.3 L581.7,562.3 L574.7,557.1 L562.5,543.1 L550.3,536.1 L539.8,525.7 L499.7,527.4" fill="none" stroke="#dcdde0" stroke-width="5.2" stroke-linejoin="round" stroke-linecap="round"/><path d="M693.5,354.0 L720.6,355.8 L760.0,383.5 L816.7,423.3 L836.7,438.3 L843.3,446.7 L876.7,466.7 L876.7,474.0 L898.5,472.0 L897.2,505.0 L895.5,539.8 L885.0,550.3 L843.1,554.6 L822.2,562.5 L804.7,559.0 L790.8,567.7 L778.5,571.2 L764.6,578.2 L755.8,590.4 L740.1,592.2 L731.4,604.4 L727.9,618.3 L712.2,623.6 L710.5,653.2 L701.0,655.3 L694.7,649.1 L684.7,650.3 L672.1,654.1 L660.8,656.6 L655.0,647.8 L648.0,635.6 L641.0,619.9 L634.0,611.2 L618.3,619.9 L609.6,619.9 L602.6,621.6 L595.7,618.2 L595.7,609.4 L592.2,592.0 L583.4,574.5 L581.7,564.0 L590.4,548.3 L606.1,557.1 L614.9,551.8 L635.8,550.1 L710.8,550.1 L712.6,532.6 L707.3,530.9 L699.3,440.0 L697.4,415.8 L695.5,386.8 L693.5,354.0" fill="none" stroke="#dcdde0" stroke-width="5.2" stroke-linejoin="round" stroke-linecap="round"/><path d="M499.7,527.4 L539.8,525.7 L550.3,536.1 L562.5,543.1 L574.7,557.1 L581.7,562.3 L581.7,564.0 L583.4,574.5 L592.2,592.0 L595.7,609.4 L595.7,618.2 L574.7,614.7 L553.8,609.4 L510.1,605.9 L494.4,607.7" fill="none" stroke="#dcdde0" stroke-width="5.2" stroke-linejoin="round" stroke-linecap="round"/><path d="M553.8,609.4 L550.3,623.4 L536.3,630.4 L527.6,633.9" fill="none" stroke="#dcdde0" stroke-width="5.2" stroke-linejoin="round" stroke-linecap="round"/><path d="M570.2,666.7 L575.2,662.9 L597.9,662.9 L606.7,670.4 L610.4,678.0 L610.4,691.8 L609.2,700.6 L605.4,709.4 L599.1,719.5 L597.9,725.8" fill="none" stroke="#dcdde0" stroke-width="5.2" stroke-linejoin="round" stroke-linecap="round"/><path d="M610.4,691.8 L618.0,693.1 L628.1,693.1 L633.1,699.4 L635.6,713.2 L640.6,718.2 L646.9,715.7 L650.7,713.2 L655.7,710.7 L657.0,725.8 L653.2,733.3 L660.8,738.4 L670.8,747.2 L672.1,763.5 L669.6,776.1" fill="none" stroke="#dcdde0" stroke-width="5.2" stroke-linejoin="round" stroke-linecap="round"/><path d="M660.8,656.6 L672.1,654.1 L684.7,650.3 L694.7,649.1 L701.0,655.3 L709.8,652.8 L718.6,660.4 L731.2,667.9 L741.3,665.4 L753.8,664.2 L760.1,666.7 L761.4,666.7 L763.9,688.0 L766.4,698.1 L761.4,713.2 L756.4,720.8 L753.8,732.1 L756.4,744.7 L761.4,757.2 L763.9,762.3" fill="none" stroke="#dcdde0" stroke-width="5.2" stroke-linejoin="round" stroke-linecap="round"/><path d="M669.6,776.1 L672.1,763.5 L670.8,747.2 L660.8,738.4 L653.2,733.3 L657.0,725.8 L655.7,710.7 L660.8,703.1 L660.8,695.6 L664.5,691.8 L667.0,685.5 L664.5,678.0 L660.8,670.4 L659.5,660.4 L660.8,656.6" fill="none" stroke="#dcdde0" stroke-width="5.2" stroke-linejoin="round" stroke-linecap="round"/><path d="M822.2,562.5 L804.7,559.0 L790.8,567.7 L778.5,571.2 L764.6,578.2 L755.8,590.4 L740.1,592.2 L731.4,604.4 L727.9,618.3 L712.2,623.6 L710.5,653.2 L718.6,660.4 L731.2,667.9 L741.3,665.4 L753.8,664.2 L760.1,666.7 L759.3,642.8 L808.2,639.3 L825.7,642.8 L839.6,635.8 L848.3,630.6 L857.1,623.6 L862.3,616.6 L857.1,611.4 L844.9,607.9 L836.1,600.9 L832.6,588.7 L822.2,574.7 L818.7,567.7 L822.2,562.5" fill="none" stroke="#dcdde0" stroke-width="5.2" stroke-linejoin="round" stroke-linecap="round"/><path d="M759.3,642.8 L808.2,639.3 L815.2,644.5 L822.2,662.0 L822.2,696.9 L829.1,714.3 L830.9,738.8" fill="none" stroke="#dcdde0" stroke-width="5.2" stroke-linejoin="round" stroke-linecap="round"/><path d="M808.2,639.3 L825.7,642.8 L830.9,644.5 L832.6,653.2 L843.1,662.0 L844.9,679.4 L846.6,705.6 L848.3,738.8" fill="none" stroke="#dcdde0" stroke-width="5.2" stroke-linejoin="round" stroke-linecap="round"/><path d="M830.9,644.5 L839.6,635.8 L848.3,630.6 L857.1,623.6 L862.3,616.6 L867.5,607.9 L881.5,602.6 L892.0,592.2 L893.7,590.4 L886.7,609.6 L885.0,627.1 L888.5,644.5 L886.7,662.0 L878.0,670.7 L869.3,679.4 L869.3,735.3 L869.3,765.0" fill="none" stroke="#dcdde0" stroke-width="5.2" stroke-linejoin="round" stroke-linecap="round"/><path d="M898.5,472.0 L930.0,468.3 L1043.0,386.7 L1063.0,391.7 L1089.7,403.3 L1108.0,398.3 L1114.7,440.0 L1123.0,450.0 L1119.7,460.0 L1116.3,490.0 L1114.7,520.0 L1099.6,540.0 L1082.2,557.5 L1076.9,571.4 L1078.7,588.9 L1061.2,592.4 L1050.8,597.6 L1033.3,592.4 L1012.4,595.8 L1003.6,602.8 L977.5,594.1 L961.8,595.7 L953.0,595.7 L944.3,585.2 L918.2,583.4 L900.7,585.2 L893.7,590.4 L881.5,602.6 L867.5,607.9 L862.3,616.6 L857.1,611.4 L844.9,607.9 L836.1,600.9 L832.6,588.7 L822.2,574.7 L818.7,567.7 L822.2,562.5 L843.1,554.6 L885.0,550.3 L895.5,539.8 L897.2,505.0 L898.5,472.0" fill="none" stroke="#dcdde0" stroke-width="5.2" stroke-linejoin="round" stroke-linecap="round"/><path d="M1078.7,588.9 L1085.7,599.3 L1096.1,613.3 L1097.9,627.3 L1085.7,637.7 L1078.7,644.7 L1068.2,665.7 L1064.7,679.6 L1052.5,693.6 L1047.3,705.8 L1040.3,725.0 L1033.3,733.7 L1024.6,725.0 L1012.4,725.0 L1003.6,728.5 L994.9,740.7 L987.9,751.2 L986.2,763.4 L987.9,772.1" fill="none" stroke="#dcdde0" stroke-width="5.2" stroke-linejoin="round" stroke-linecap="round"/><path d="M1078.7,588.9 L1089.1,599.3 L1099.6,602.8 L1104.9,613.3 L1106.6,627.3 L1104.9,641.2 L1110.1,653.4 L1118.8,660.4 L1087.4,663.0 L1087.4,665.7 L1097.9,679.6 L1108.3,691.8 L1113.6,702.3 L1117.1,712.8 L1108.3,721.5 L1099.6,737.2 L1096.1,745.9 L1097.9,766.9 L1104.9,780.8 L1111.8,787.8 L1124.0,801.8 L1127.5,822.7 L1082.2,821.0 L1035.0,819.2 L1003.6,821.0" fill="none" stroke="#dcdde0" stroke-width="5.2" stroke-linejoin="round" stroke-linecap="round"/><path d="M1108.0,398.3 L1124.7,388.3 L1276.3,466.7 L1279.5,467.0 L1279.5,544.7 L1260.3,548.2 L1256.8,562.2 L1248.1,569.1 L1244.6,579.6 L1241.1,590.1 L1239.3,604.0 L1248.1,614.5 L1253.3,625.0 L1256.8,635.5 L1260.3,642.4 L1256.8,642.4 L1237.6,642.4 L1234.0,655.2 L1218.3,672.6 L1211.4,677.3 L1204.3,679.6 L1185.1,683.1 L1181.6,693.6 L1165.9,700.6 L1152.0,704.0 L1134.5,709.3 L1117.1,712.8 L1113.6,702.3 L1108.3,691.8 L1097.9,679.6 L1087.4,665.7 L1087.4,663.0 L1118.8,660.4 L1110.1,653.4 L1104.9,641.2 L1106.6,627.3 L1104.9,613.3 L1099.6,602.8 L1089.1,599.3 L1078.7,588.9 L1076.9,571.4 L1082.2,557.5 L1099.6,540.0 L1114.7,520.0 L1116.3,490.0 L1119.7,460.0 L1123.0,450.0 L1114.7,440.0 L1108.0,398.3" fill="none" stroke="#dcdde0" stroke-width="5.2" stroke-linejoin="round" stroke-linecap="round"/><path d="M1117.1,712.8 L1134.5,709.3 L1152.0,704.0 L1165.9,700.6 L1181.6,693.6 L1185.1,683.1 L1204.3,679.6 L1211.4,677.3 L1218.3,672.6 L1234.0,655.2 L1237.6,642.4 L1256.8,642.4 L1260.3,642.4 L1269.0,652.9 L1272.5,666.9 L1270.8,687.8 L1284.7,689.6 L1288.2,701.8 L1302.2,712.3 L1310.9,722.7 L1319.6,733.2 L1324.9,740.0 L1333.0,745.0 L1339.7,760.0 L1309.7,756.7 L1293.0,766.7 L1260.0,772.1 L1239.2,780.8 L1221.8,775.6 L1204.3,766.9 L1186.9,765.1 L1176.4,784.3 L1169.4,791.3 L1143.2,793.1 L1131.0,801.8 L1127.5,822.7 L1124.0,801.8 L1111.8,787.8 L1104.9,780.8 L1097.9,766.9 L1096.1,745.9 L1099.6,737.2 L1108.3,721.5 L1117.1,712.8" fill="none" stroke="#dcdde0" stroke-width="5.2" stroke-linejoin="round" stroke-linecap="round"/><path d="M1575.0,480.0 L1559.6,497.0 L1546.3,505.9 L1533.0,514.7 L1528.6,523.6 L1528.3,540.0 L1519.6,557.5 L1521.4,573.2 L1517.9,588.9 L1512.6,606.3 L1502.2,613.3 L1495.2,627.3 L1488.2,641.2 L1481.2,648.2 L1477.7,662.2" fill="none" stroke="#dcdde0" stroke-width="5.2" stroke-linejoin="round" stroke-linecap="round"/><path d="M1293.4,666.9 L1284.7,689.6 L1270.8,687.8 L1272.5,666.9 L1269.0,652.9 L1260.3,642.4 L1256.8,635.5 L1253.3,625.0 L1248.1,614.5 L1239.3,604.0 L1241.1,590.1 L1244.6,579.6 L1248.1,569.1 L1256.8,562.2 L1260.3,548.2 L1279.5,544.7 L1279.5,459.2 L1300.4,457.5 L1299.7,416.0" fill="none" stroke="#dcdde0" stroke-width="5.2" stroke-linejoin="round" stroke-linecap="round"/><path d="M1299.7,218.0 L1299.7,416.0 L1526.0,416.0" fill="none" stroke="#dcdde0" stroke-width="5.2" stroke-linejoin="round" stroke-linecap="round"/><path d="M1521.4,573.2 L1531.8,571.4 L1547.5,562.7 L1554.5,569.7 L1568.5,569.7 L1585.9,573.2 L1603.4,583.6 L1617.3,594.1 L1629.6,606.3 L1634.8,611.6" fill="none" stroke="#dcdde0" stroke-width="5.2" stroke-linejoin="round" stroke-linecap="round"/><path d="M1634.8,611.6 L1624.3,625.5 L1622.6,639.5 L1636.5,641.2 L1641.8,637.7 L1648.0,636.3" fill="none" stroke="#dcdde0" stroke-width="5.2" stroke-linejoin="round" stroke-linecap="round"/><path d="M1634.8,611.6 L1624.3,625.5 L1622.6,639.5 L1636.5,641.2 L1641.8,637.7 L1644.0,636.7 L1650.7,660.0 L1660.7,676.7 L1687.3,686.7 L1710.7,696.7 L1744.0,705.0" fill="none" stroke="#dcdde0" stroke-width="5.2" stroke-linejoin="round" stroke-linecap="round"/><path d="M1627.3,786.7 L1624.3,787.8 L1615.6,789.6 L1603.4,780.8 L1589.4,784.3 L1580.7,791.3 L1554.5,791.3 L1545.8,784.3 L1528.3,775.6 L1510.9,773.9 L1509.1,766.9 L1502.2,754.7 L1491.7,740.7 L1477.7,723.2 L1456.8,707.5 L1458.5,700.6 L1477.7,690.1 L1477.7,662.2 L1481.2,648.2 L1488.2,641.2 L1495.2,627.3 L1502.2,613.3 L1512.6,606.3 L1517.9,588.9" fill="none" stroke="#dcdde0" stroke-width="5.2" stroke-linejoin="round" stroke-linecap="round"/><path d="M1627.3,786.7 L1620.8,787.8 L1608.6,807.0 L1609.0,850.0 L1609.0,893.3 L1620.7,900.0" fill="none" stroke="#dcdde0" stroke-width="5.2" stroke-linejoin="round" stroke-linecap="round"/><path d="M1607.3,810.1 L1607.3,878.2 L1616.1,899.1" fill="none" stroke="#dcdde0" stroke-width="5.2" stroke-linejoin="round" stroke-linecap="round"/><path d="M1570.7,962.0 L1541.0,934.0 L1474.7,888.7 L1473.0,874.7 L1474.7,857.3 L1481.7,843.3 L1490.4,831.1 L1490.4,813.6 L1483.4,796.2 L1478.2,777.0" fill="none" stroke="#dcdde0" stroke-width="5.2" stroke-linejoin="round" stroke-linecap="round"/><path d="M1390.9,892.2 L1392.7,874.7 L1392.7,857.3 L1399.7,843.3 L1415.4,824.1 L1411.9,804.9 L1413.6,794.4 L1422.4,792.7 L1439.8,794.4 L1457.3,789.2 L1474.7,787.5 L1478.2,777.0 L1483.4,796.2 L1490.4,813.6 L1490.4,831.1 L1481.7,843.3 L1474.7,857.3 L1473.0,874.7 L1474.7,888.7 L1390.9,892.2" fill="none" stroke="#dcdde0" stroke-width="5.2" stroke-linejoin="round" stroke-linecap="round"/><path d="M1408.4,890.4 L1474.7,888.7 L1541.0,934.0 L1570.7,962.0 L1600.0,1083.3 L1576.7,1086.7 L1560.0,1096.7 L1546.7,1100.0 L1520.0,1106.7 L1503.3,1106.7 L1483.3,1100.0 L1480.0,1073.3 L1470.0,1063.3 L1436.7,1053.3 L1420.0,1046.7 L1404.9,1031.8 L1387.5,996.9 L1387.5,962.0 L1406.6,944.5 L1410.1,921.8 L1408.4,890.4" fill="none" stroke="#dcdde0" stroke-width="5.2" stroke-linejoin="round" stroke-linecap="round"/><path d="M1634.0,101.7 L1650.7,103.3 L1667.3,106.7 L1687.3,126.7 L1700.7,146.7 L1694.0,156.7 L1690.7,166.7 L1707.3,190.0 L1727.3,206.7 L1737.3,220.0 L1740.7,233.3 L1744.0,246.7 L1727.3,250.0 L1714.0,266.7 L1680.7,266.7 L1647.3,246.7 L1620.7,230.0 L1574.0,206.7 L1567.3,183.3 L1587.3,173.3 L1614.0,163.3 L1617.3,120.0 L1634.0,101.7" fill="none" stroke="#dcdde0" stroke-width="5.2" stroke-linejoin="round" stroke-linecap="round"/><path d="M1652.3,510.0 L1680.7,513.3 L1707.3,510.0 L1724.0,520.0 L1734.0,510.0 L1760.7,496.7 L1787.3,486.7 L1819.0,480.0 L1840.7,523.3" fill="none" stroke="#dcdde0" stroke-width="5.2" stroke-linejoin="round" stroke-linecap="round"/><path d="M564.0,431.4 L562.9,397.4 L586.1,386.8 L586.1,336.4 L650.0,336.0 L650.0,309.4 L716.7,352.9 L693.5,354.0 L695.5,386.8 L697.4,415.8 L699.3,440.0 L707.3,530.9 L712.6,532.6 L710.8,550.1 L635.8,550.1 L614.9,551.8 L606.1,557.1 L590.4,548.3 L581.7,562.3 L574.7,557.1 L562.5,543.1 L550.3,536.1 L539.8,525.7 L499.7,527.4" fill="none" stroke="#ffffff" stroke-width="3.2" stroke-linejoin="round" stroke-linecap="round"/><path d="M693.5,354.0 L720.6,355.8 L760.0,383.5 L816.7,423.3 L836.7,438.3 L843.3,446.7 L876.7,466.7 L876.7,474.0 L898.5,472.0 L897.2,505.0 L895.5,539.8 L885.0,550.3 L843.1,554.6 L822.2,562.5 L804.7,559.0 L790.8,567.7 L778.5,571.2 L764.6,578.2 L755.8,590.4 L740.1,592.2 L731.4,604.4 L727.9,618.3 L712.2,623.6 L710.5,653.2 L701.0,655.3 L694.7,649.1 L684.7,650.3 L672.1,654.1 L660.8,656.6 L655.0,647.8 L648.0,635.6 L641.0,619.9 L634.0,611.2 L618.3,619.9 L609.6,619.9 L602.6,621.6 L595.7,618.2 L595.7,609.4 L592.2,592.0 L583.4,574.5 L581.7,564.0 L590.4,548.3 L606.1,557.1 L614.9,551.8 L635.8,550.1 L710.8,550.1 L712.6,532.6 L707.3,530.9 L699.3,440.0 L697.4,415.8 L695.5,386.8 L693.5,354.0" fill="none" stroke="#ffffff" stroke-width="3.2" stroke-linejoin="round" stroke-linecap="round"/><path d="M499.7,527.4 L539.8,525.7 L550.3,536.1 L562.5,543.1 L574.7,557.1 L581.7,562.3 L581.7,564.0 L583.4,574.5 L592.2,592.0 L595.7,609.4 L595.7,618.2 L574.7,614.7 L553.8,609.4 L510.1,605.9 L494.4,607.7" fill="none" stroke="#ffffff" stroke-width="3.2" stroke-linejoin="round" stroke-linecap="round"/><path d="M553.8,609.4 L550.3,623.4 L536.3,630.4 L527.6,633.9" fill="none" stroke="#ffffff" stroke-width="3.2" stroke-linejoin="round" stroke-linecap="round"/><path d="M570.2,666.7 L575.2,662.9 L597.9,662.9 L606.7,670.4 L610.4,678.0 L610.4,691.8 L609.2,700.6 L605.4,709.4 L599.1,719.5 L597.9,725.8" fill="none" stroke="#ffffff" stroke-width="3.2" stroke-linejoin="round" stroke-linecap="round"/><path d="M610.4,691.8 L618.0,693.1 L628.1,693.1 L633.1,699.4 L635.6,713.2 L640.6,718.2 L646.9,715.7 L650.7,713.2 L655.7,710.7 L657.0,725.8 L653.2,733.3 L660.8,738.4 L670.8,747.2 L672.1,763.5 L669.6,776.1" fill="none" stroke="#ffffff" stroke-width="3.2" stroke-linejoin="round" stroke-linecap="round"/><path d="M660.8,656.6 L672.1,654.1 L684.7,650.3 L694.7,649.1 L701.0,655.3 L709.8,652.8 L718.6,660.4 L731.2,667.9 L741.3,665.4 L753.8,664.2 L760.1,666.7 L761.4,666.7 L763.9,688.0 L766.4,698.1 L761.4,713.2 L756.4,720.8 L753.8,732.1 L756.4,744.7 L761.4,757.2 L763.9,762.3" fill="none" stroke="#ffffff" stroke-width="3.2" stroke-linejoin="round" stroke-linecap="round"/><path d="M669.6,776.1 L672.1,763.5 L670.8,747.2 L660.8,738.4 L653.2,733.3 L657.0,725.8 L655.7,710.7 L660.8,703.1 L660.8,695.6 L664.5,691.8 L667.0,685.5 L664.5,678.0 L660.8,670.4 L659.5,660.4 L660.8,656.6" fill="none" stroke="#ffffff" stroke-width="3.2" stroke-linejoin="round" stroke-linecap="round"/><path d="M822.2,562.5 L804.7,559.0 L790.8,567.7 L778.5,571.2 L764.6,578.2 L755.8,590.4 L740.1,592.2 L731.4,604.4 L727.9,618.3 L712.2,623.6 L710.5,653.2 L718.6,660.4 L731.2,667.9 L741.3,665.4 L753.8,664.2 L760.1,666.7 L759.3,642.8 L808.2,639.3 L825.7,642.8 L839.6,635.8 L848.3,630.6 L857.1,623.6 L862.3,616.6 L857.1,611.4 L844.9,607.9 L836.1,600.9 L832.6,588.7 L822.2,574.7 L818.7,567.7 L822.2,562.5" fill="none" stroke="#ffffff" stroke-width="3.2" stroke-linejoin="round" stroke-linecap="round"/><path d="M759.3,642.8 L808.2,639.3 L815.2,644.5 L822.2,662.0 L822.2,696.9 L829.1,714.3 L830.9,738.8" fill="none" stroke="#ffffff" stroke-width="3.2" stroke-linejoin="round" stroke-linecap="round"/><path d="M808.2,639.3 L825.7,642.8 L830.9,644.5 L832.6,653.2 L843.1,662.0 L844.9,679.4 L846.6,705.6 L848.3,738.8" fill="none" stroke="#ffffff" stroke-width="3.2" stroke-linejoin="round" stroke-linecap="round"/><path d="M830.9,644.5 L839.6,635.8 L848.3,630.6 L857.1,623.6 L862.3,616.6 L867.5,607.9 L881.5,602.6 L892.0,592.2 L893.7,590.4 L886.7,609.6 L885.0,627.1 L888.5,644.5 L886.7,662.0 L878.0,670.7 L869.3,679.4 L869.3,735.3 L869.3,765.0" fill="none" stroke="#ffffff" stroke-width="3.2" stroke-linejoin="round" stroke-linecap="round"/><path d="M898.5,472.0 L930.0,468.3 L1043.0,386.7 L1063.0,391.7 L1089.7,403.3 L1108.0,398.3 L1114.7,440.0 L1123.0,450.0 L1119.7,460.0 L1116.3,490.0 L1114.7,520.0 L1099.6,540.0 L1082.2,557.5 L1076.9,571.4 L1078.7,588.9 L1061.2,592.4 L1050.8,597.6 L1033.3,592.4 L1012.4,595.8 L1003.6,602.8 L977.5,594.1 L961.8,595.7 L953.0,595.7 L944.3,585.2 L918.2,583.4 L900.7,585.2 L893.7,590.4 L881.5,602.6 L867.5,607.9 L862.3,616.6 L857.1,611.4 L844.9,607.9 L836.1,600.9 L832.6,588.7 L822.2,574.7 L818.7,567.7 L822.2,562.5 L843.1,554.6 L885.0,550.3 L895.5,539.8 L897.2,505.0 L898.5,472.0" fill="none" stroke="#ffffff" stroke-width="3.2" stroke-linejoin="round" stroke-linecap="round"/><path d="M1078.7,588.9 L1085.7,599.3 L1096.1,613.3 L1097.9,627.3 L1085.7,637.7 L1078.7,644.7 L1068.2,665.7 L1064.7,679.6 L1052.5,693.6 L1047.3,705.8 L1040.3,725.0 L1033.3,733.7 L1024.6,725.0 L1012.4,725.0 L1003.6,728.5 L994.9,740.7 L987.9,751.2 L986.2,763.4 L987.9,772.1" fill="none" stroke="#ffffff" stroke-width="3.2" stroke-linejoin="round" stroke-linecap="round"/><path d="M1078.7,588.9 L1089.1,599.3 L1099.6,602.8 L1104.9,613.3 L1106.6,627.3 L1104.9,641.2 L1110.1,653.4 L1118.8,660.4 L1087.4,663.0 L1087.4,665.7 L1097.9,679.6 L1108.3,691.8 L1113.6,702.3 L1117.1,712.8 L1108.3,721.5 L1099.6,737.2 L1096.1,745.9 L1097.9,766.9 L1104.9,780.8 L1111.8,787.8 L1124.0,801.8 L1127.5,822.7 L1082.2,821.0 L1035.0,819.2 L1003.6,821.0" fill="none" stroke="#ffffff" stroke-width="3.2" stroke-linejoin="round" stroke-linecap="round"/><path d="M1108.0,398.3 L1124.7,388.3 L1276.3,466.7 L1279.5,467.0 L1279.5,544.7 L1260.3,548.2 L1256.8,562.2 L1248.1,569.1 L1244.6,579.6 L1241.1,590.1 L1239.3,604.0 L1248.1,614.5 L1253.3,625.0 L1256.8,635.5 L1260.3,642.4 L1256.8,642.4 L1237.6,642.4 L1234.0,655.2 L1218.3,672.6 L1211.4,677.3 L1204.3,679.6 L1185.1,683.1 L1181.6,693.6 L1165.9,700.6 L1152.0,704.0 L1134.5,709.3 L1117.1,712.8 L1113.6,702.3 L1108.3,691.8 L1097.9,679.6 L1087.4,665.7 L1087.4,663.0 L1118.8,660.4 L1110.1,653.4 L1104.9,641.2 L1106.6,627.3 L1104.9,613.3 L1099.6,602.8 L1089.1,599.3 L1078.7,588.9 L1076.9,571.4 L1082.2,557.5 L1099.6,540.0 L1114.7,520.0 L1116.3,490.0 L1119.7,460.0 L1123.0,450.0 L1114.7,440.0 L1108.0,398.3" fill="none" stroke="#ffffff" stroke-width="3.2" stroke-linejoin="round" stroke-linecap="round"/><path d="M1117.1,712.8 L1134.5,709.3 L1152.0,704.0 L1165.9,700.6 L1181.6,693.6 L1185.1,683.1 L1204.3,679.6 L1211.4,677.3 L1218.3,672.6 L1234.0,655.2 L1237.6,642.4 L1256.8,642.4 L1260.3,642.4 L1269.0,652.9 L1272.5,666.9 L1270.8,687.8 L1284.7,689.6 L1288.2,701.8 L1302.2,712.3 L1310.9,722.7 L1319.6,733.2 L1324.9,740.0 L1333.0,745.0 L1339.7,760.0 L1309.7,756.7 L1293.0,766.7 L1260.0,772.1 L1239.2,780.8 L1221.8,775.6 L1204.3,766.9 L1186.9,765.1 L1176.4,784.3 L1169.4,791.3 L1143.2,793.1 L1131.0,801.8 L1127.5,822.7 L1124.0,801.8 L1111.8,787.8 L1104.9,780.8 L1097.9,766.9 L1096.1,745.9 L1099.6,737.2 L1108.3,721.5 L1117.1,712.8" fill="none" stroke="#ffffff" stroke-width="3.2" stroke-linejoin="round" stroke-linecap="round"/><path d="M1575.0,480.0 L1559.6,497.0 L1546.3,505.9 L1533.0,514.7 L1528.6,523.6 L1528.3,540.0 L1519.6,557.5 L1521.4,573.2 L1517.9,588.9 L1512.6,606.3 L1502.2,613.3 L1495.2,627.3 L1488.2,641.2 L1481.2,648.2 L1477.7,662.2" fill="none" stroke="#ffffff" stroke-width="3.2" stroke-linejoin="round" stroke-linecap="round"/><path d="M1293.4,666.9 L1284.7,689.6 L1270.8,687.8 L1272.5,666.9 L1269.0,652.9 L1260.3,642.4 L1256.8,635.5 L1253.3,625.0 L1248.1,614.5 L1239.3,604.0 L1241.1,590.1 L1244.6,579.6 L1248.1,569.1 L1256.8,562.2 L1260.3,548.2 L1279.5,544.7 L1279.5,459.2 L1300.4,457.5 L1299.7,416.0" fill="none" stroke="#ffffff" stroke-width="3.2" stroke-linejoin="round" stroke-linecap="round"/><path d="M1299.7,218.0 L1299.7,416.0 L1526.0,416.0" fill="none" stroke="#ffffff" stroke-width="3.2" stroke-linejoin="round" stroke-linecap="round"/><path d="M1521.4,573.2 L1531.8,571.4 L1547.5,562.7 L1554.5,569.7 L1568.5,569.7 L1585.9,573.2 L1603.4,583.6 L1617.3,594.1 L1629.6,606.3 L1634.8,611.6" fill="none" stroke="#ffffff" stroke-width="3.2" stroke-linejoin="round" stroke-linecap="round"/><path d="M1634.8,611.6 L1624.3,625.5 L1622.6,639.5 L1636.5,641.2 L1641.8,637.7 L1648.0,636.3" fill="none" stroke="#ffffff" stroke-width="3.2" stroke-linejoin="round" stroke-linecap="round"/><path d="M1634.8,611.6 L1624.3,625.5 L1622.6,639.5 L1636.5,641.2 L1641.8,637.7 L1644.0,636.7 L1650.7,660.0 L1660.7,676.7 L1687.3,686.7 L1710.7,696.7 L1744.0,705.0" fill="none" stroke="#ffffff" stroke-width="3.2" stroke-linejoin="round" stroke-linecap="round"/><path d="M1627.3,786.7 L1624.3,787.8 L1615.6,789.6 L1603.4,780.8 L1589.4,784.3 L1580.7,791.3 L1554.5,791.3 L1545.8,784.3 L1528.3,775.6 L1510.9,773.9 L1509.1,766.9 L1502.2,754.7 L1491.7,740.7 L1477.7,723.2 L1456.8,707.5 L1458.5,700.6 L1477.7,690.1 L1477.7,662.2 L1481.2,648.2 L1488.2,641.2 L1495.2,627.3 L1502.2,613.3 L1512.6,606.3 L1517.9,588.9" fill="none" stroke="#ffffff" stroke-width="3.2" stroke-linejoin="round" stroke-linecap="round"/><path d="M1627.3,786.7 L1620.8,787.8 L1608.6,807.0 L1609.0,850.0 L1609.0,893.3 L1620.7,900.0" fill="none" stroke="#ffffff" stroke-width="3.2" stroke-linejoin="round" stroke-linecap="round"/><path d="M1607.3,810.1 L1607.3,878.2 L1616.1,899.1" fill="none" stroke="#ffffff" stroke-width="3.2" stroke-linejoin="round" stroke-linecap="round"/><path d="M1570.7,962.0 L1541.0,934.0 L1474.7,888.7 L1473.0,874.7 L1474.7,857.3 L1481.7,843.3 L1490.4,831.1 L1490.4,813.6 L1483.4,796.2 L1478.2,777.0" fill="none" stroke="#ffffff" stroke-width="3.2" stroke-linejoin="round" stroke-linecap="round"/><path d="M1390.9,892.2 L1392.7,874.7 L1392.7,857.3 L1399.7,843.3 L1415.4,824.1 L1411.9,804.9 L1413.6,794.4 L1422.4,792.7 L1439.8,794.4 L1457.3,789.2 L1474.7,787.5 L1478.2,777.0 L1483.4,796.2 L1490.4,813.6 L1490.4,831.1 L1481.7,843.3 L1474.7,857.3 L1473.0,874.7 L1474.7,888.7 L1390.9,892.2" fill="none" stroke="#ffffff" stroke-width="3.2" stroke-linejoin="round" stroke-linecap="round"/><path d="M1408.4,890.4 L1474.7,888.7 L1541.0,934.0 L1570.7,962.0 L1600.0,1083.3 L1576.7,1086.7 L1560.0,1096.7 L1546.7,1100.0 L1520.0,1106.7 L1503.3,1106.7 L1483.3,1100.0 L1480.0,1073.3 L1470.0,1063.3 L1436.7,1053.3 L1420.0,1046.7 L1404.9,1031.8 L1387.5,996.9 L1387.5,962.0 L1406.6,944.5 L1410.1,921.8 L1408.4,890.4" fill="none" stroke="#ffffff" stroke-width="3.2" stroke-linejoin="round" stroke-linecap="round"/><path d="M1634.0,101.7 L1650.7,103.3 L1667.3,106.7 L1687.3,126.7 L1700.7,146.7 L1694.0,156.7 L1690.7,166.7 L1707.3,190.0 L1727.3,206.7 L1737.3,220.0 L1740.7,233.3 L1744.0,246.7 L1727.3,250.0 L1714.0,266.7 L1680.7,266.7 L1647.3,246.7 L1620.7,230.0 L1574.0,206.7 L1567.3,183.3 L1587.3,173.3 L1614.0,163.3 L1617.3,120.0 L1634.0,101.7" fill="none" stroke="#ffffff" stroke-width="3.2" stroke-linejoin="round" stroke-linecap="round"/><path d="M1652.3,510.0 L1680.7,513.3 L1707.3,510.0 L1724.0,520.0 L1734.0,510.0 L1760.7,496.7 L1787.3,486.7 L1819.0,480.0 L1840.7,523.3" fill="none" stroke="#ffffff" stroke-width="3.2" stroke-linejoin="round" stroke-linecap="round"/><path d="M1477.7,662.2 L1472.5,653.4 L1460.3,641.2 L1458.5,627.3 L1456.8,616.8 L1450.5,618.0 L1441.8,623.2 L1438.3,644.2 L1432.4,658.7 L1424.3,665.1 L1406.9,666.9 L1394.7,656.4 L1385.9,658.2 L1372.0,663.4 L1354.5,661.6 L1354.5,666.9 L1328.3,670.4 L1323.1,666.9 L1317.9,656.4 L1302.2,656.4 L1293.4,666.9 L1284.7,689.6" fill="none" stroke="#ffffff" stroke-width="4" stroke-dasharray="6 5" stroke-linecap="round"/><path d="M1470.0,418.0 L1490.0,412.0 L1500.0,408.0 L1509.0,397.0" fill="none" stroke="#ffffff" stroke-width="4" stroke-dasharray="6 5" stroke-linecap="round"/><path d="M1420.0,412.0 L1424.0,411.0" fill="none" stroke="#ffffff" stroke-width="4" stroke-dasharray="6 5" stroke-linecap="round"/><path d="M1744.0,705.0 L1727.3,723.3 L1707.3,743.3 L1690.7,760.0 L1680.7,768.3 L1660.7,768.3 L1647.3,775.0 L1627.3,786.7 L1624.3,787.8" fill="none" stroke="#ffffff" stroke-width="4" stroke-dasharray="6 5" stroke-linecap="round"/></g>
</g>
<rect x="26" y="82.30" width="243.60" height="29.4" fill="#841f25"/>
<text x="302.4" y="107.10" font-family="Liberation Sans" font-size="24" fill="#111" textLength="92.3" lengthAdjust="spacingAndGlyphs">Somalie</text>
<text x="209.80" y="107.10" font-family="Liberation Sans" font-weight="bold" font-size="24" fill="#fff" textLength="58.8" lengthAdjust="spacingAndGlyphs">98 %</text>
<rect x="31" y="135.47" width="238.60" height="29.4" fill="#841f25"/>
<text x="302.4" y="160.27" font-family="Liberation Sans" font-size="24" fill="#111" textLength="76.3" lengthAdjust="spacingAndGlyphs">Guinée</text>
<text x="209.80" y="160.27" font-family="Liberation Sans" font-weight="bold" font-size="24" fill="#fff" textLength="58.8" lengthAdjust="spacingAndGlyphs">96 %</text>
<rect x="38.3" y="188.64" width="231.30" height="29.4" fill="#841f25"/>
<text x="302.4" y="213.44" font-family="Liberation Sans" font-size="24" fill="#111" textLength="84.7" lengthAdjust="spacingAndGlyphs">Djibouti</text>
<text x="209.80" y="213.44" font-family="Liberation Sans" font-weight="bold" font-size="24" fill="#fff" textLength="58.8" lengthAdjust="spacingAndGlyphs">93 %</text>
<rect x="43.3" y="241.81" width="226.30" height="29.4" fill="#841f25"/>
<text x="302.4" y="266.61" font-family="Liberation Sans" font-size="24" fill="#111" textLength="77.3" lengthAdjust="spacingAndGlyphs">Égypte</text>
<text x="209.80" y="266.61" font-family="Liberation Sans" font-weight="bold" font-size="24" fill="#fff" textLength="58.8" lengthAdjust="spacingAndGlyphs">91 %</text>
<rect x="48.3" y="294.98" width="221.30" height="29.4" fill="#841f25"/>
<text x="302.4" y="319.78" font-family="Liberation Sans" font-size="24" fill="#111" textLength="98.0" lengthAdjust="spacingAndGlyphs">Érythrée</text>
<text x="209.80" y="319.78" font-family="Liberation Sans" font-weight="bold" font-size="24" fill="#fff" textLength="58.8" lengthAdjust="spacingAndGlyphs">89 %</text>
<rect x="47.3" y="348.15" width="222.30" height="29.4" fill="#841f25"/>
<text x="302.4" y="372.95" font-family="Liberation Sans" font-size="24" fill="#111" textLength="47.0" lengthAdjust="spacingAndGlyphs">Mali</text>
<text x="209.80" y="372.95" font-family="Liberation Sans" font-weight="bold" font-size="24" fill="#fff" textLength="58.8" lengthAdjust="spacingAndGlyphs">89 %</text>
<rect x="50.7" y="401.32" width="218.90" height="29.4" fill="#841f25"/>
<text x="302.4" y="426.12" font-family="Liberation Sans" font-size="24" fill="#111" textLength="142.3" lengthAdjust="spacingAndGlyphs">Sierra Leone</text>
<text x="209.80" y="426.12" font-family="Liberation Sans" font-weight="bold" font-size="24" fill="#fff" textLength="58.8" lengthAdjust="spacingAndGlyphs">88 %</text>
<rect x="50.7" y="454.49" width="218.90" height="29.4" fill="#841f25"/>
<text x="302.4" y="479.29" font-family="Liberation Sans" font-size="24" fill="#111" textLength="83.7" lengthAdjust="spacingAndGlyphs">Soudan</text>
<text x="209.80" y="479.29" font-family="Liberation Sans" font-weight="bold" font-size="24" fill="#fff" textLength="58.8" lengthAdjust="spacingAndGlyphs">88 %</text>
<rect x="80.3" y="507.66" width="189.30" height="29.4" fill="#bd6a2e"/>
<text x="302.4" y="532.46" font-family="Liberation Sans" font-size="24" fill="#111" textLength="84.0" lengthAdjust="spacingAndGlyphs">Gambie</text>
<text x="209.80" y="532.46" font-family="Liberation Sans" font-weight="bold" font-size="24" fill="#fff" textLength="58.8" lengthAdjust="spacingAndGlyphs">76 %</text>
<rect x="80.3" y="560.83" width="189.30" height="29.4" fill="#bd6a2e"/>
<text x="302.4" y="585.63" font-family="Liberation Sans" font-size="24" fill="#111" textLength="146.3" lengthAdjust="spacingAndGlyphs">Burkina Faso</text>
<text x="209.80" y="585.63" font-family="Liberation Sans" font-weight="bold" font-size="24" fill="#fff" textLength="58.8" lengthAdjust="spacingAndGlyphs">76 %</text>
<rect x="85.7" y="614.00" width="183.90" height="29.4" fill="#bd6a2e"/>
<text x="302.4" y="638.80" font-family="Liberation Sans" font-size="24" fill="#111" textLength="90.7" lengthAdjust="spacingAndGlyphs">Éthiopie</text>
<text x="209.80" y="638.80" font-family="Liberation Sans" font-weight="bold" font-size="24" fill="#fff" textLength="58.8" lengthAdjust="spacingAndGlyphs">74 %</text>
<rect x="98" y="667.17" width="171.60" height="29.4" fill="#bd6a2e"/>
<text x="302.4" y="691.97" font-family="Liberation Sans" font-size="24" fill="#111" textLength="119.7" lengthAdjust="spacingAndGlyphs">Mauritanie</text>
<text x="209.80" y="691.97" font-family="Liberation Sans" font-weight="bold" font-size="24" fill="#fff" textLength="58.8" lengthAdjust="spacingAndGlyphs">69 %</text>
<rect x="105.7" y="720.34" width="163.90" height="29.4" fill="#bd6a2e"/>
<text x="302.4" y="745.14" font-family="Liberation Sans" font-size="24" fill="#111" textLength="79.0" lengthAdjust="spacingAndGlyphs">Liberia</text>
<text x="209.80" y="745.14" font-family="Liberation Sans" font-weight="bold" font-size="24" fill="#fff" textLength="58.8" lengthAdjust="spacingAndGlyphs">66 %</text>
<rect x="145.3" y="773.51" width="124.30" height="29.4" fill="#c4a22f"/>
<text x="302.4" y="798.31" font-family="Liberation Sans" font-size="24" fill="#111" textLength="158.3" lengthAdjust="spacingAndGlyphs">Guinée-Bissau</text>
<text x="209.80" y="798.31" font-family="Liberation Sans" font-weight="bold" font-size="24" fill="#fff" textLength="58.8" lengthAdjust="spacingAndGlyphs">50 %</text>
<rect x="160.3" y="826.68" width="109.30" height="29.4" fill="#c4a22f"/>
<text x="302.4" y="851.48" font-family="Liberation Sans" font-size="24" fill="#111" textLength="68.7" lengthAdjust="spacingAndGlyphs">Tchad</text>
<text x="209.80" y="851.48" font-family="Liberation Sans" font-weight="bold" font-size="24" fill="#fff" textLength="58.8" lengthAdjust="spacingAndGlyphs">44 %</text>
<rect x="175.3" y="879.85" width="94.30" height="29.4" fill="#c4a22f"/>
<text x="302.4" y="904.65" font-family="Liberation Sans" font-size="24" fill="#111" textLength="137.0" lengthAdjust="spacingAndGlyphs">Côte d'Ivoire</text>
<text x="209.80" y="904.65" font-family="Liberation Sans" font-weight="bold" font-size="24" fill="#fff" textLength="58.8" lengthAdjust="spacingAndGlyphs">38 %</text>
<rect x="202.3" y="933.02" width="67.30" height="29.4" fill="#c4a22f"/>
<text x="302.4" y="957.82" font-family="Liberation Sans" font-size="24" fill="#111" textLength="69.7" lengthAdjust="spacingAndGlyphs">Kenya</text>
<text x="209.80" y="957.82" font-family="Liberation Sans" font-weight="bold" font-size="24" fill="#fff" textLength="58.8" lengthAdjust="spacingAndGlyphs">27 %</text>
<rect x="202.3" y="986.19" width="67.30" height="29.4" fill="#c4a22f"/>
<text x="302.4" y="1010.99" font-family="Liberation Sans" font-size="24" fill="#111" textLength="80.7" lengthAdjust="spacingAndGlyphs">Nigéria</text>
<text x="209.80" y="1010.99" font-family="Liberation Sans" font-weight="bold" font-size="24" fill="#fff" textLength="58.8" lengthAdjust="spacingAndGlyphs">27 %</text>
<rect x="205" y="1039.36" width="64.60" height="29.4" fill="#c4a22f"/>
<text x="302.4" y="1064.16" font-family="Liberation Sans" font-size="24" fill="#111" textLength="89.7" lengthAdjust="spacingAndGlyphs">Sénégal</text>
<text x="209.80" y="1064.16" font-family="Liberation Sans" font-weight="bold" font-size="24" fill="#fff" textLength="58.8" lengthAdjust="spacingAndGlyphs">26 %</text>
<rect x="209.7" y="1092.53" width="59.90" height="29.4" fill="#445274"/>
<text x="302.4" y="1117.33" font-family="Liberation Sans" font-size="24" fill="#111" textLength="332.0" lengthAdjust="spacingAndGlyphs">République centrale africaine</text>
<text x="145.70" y="1117.33" font-family="Liberation Sans" font-weight="bold" font-size="24" fill="#111" textLength="57.4" lengthAdjust="spacingAndGlyphs">24 %</text>
<rect x="212.7" y="1145.70" width="56.90" height="29.4" fill="#445274"/>
<text x="302.4" y="1170.50" font-family="Liberation Sans" font-size="24" fill="#111" textLength="75.3" lengthAdjust="spacingAndGlyphs">Yémen</text>
<text x="149.00" y="1170.50" font-family="Liberation Sans" font-weight="bold" font-size="24" fill="#111" textLength="59.1" lengthAdjust="spacingAndGlyphs">23 %</text>
<rect x="232.3" y="1198.87" width="37.30" height="29.4" fill="#445274"/>
<text x="302.4" y="1223.67" font-family="Liberation Sans" font-size="24" fill="#111" textLength="98.7" lengthAdjust="spacingAndGlyphs">Tanzanie</text>
<text x="170.30" y="1223.67" font-family="Liberation Sans" font-weight="bold" font-size="24" fill="#111" textLength="55.4" lengthAdjust="spacingAndGlyphs">15 %</text>
<rect x="237.3" y="1252.04" width="32.30" height="29.4" fill="#445274"/>
<text x="302.4" y="1276.84" font-family="Liberation Sans" font-size="24" fill="#111" textLength="64.0" lengthAdjust="spacingAndGlyphs">Bénin</text>
<text x="177.30" y="1276.84" font-family="Liberation Sans" font-weight="bold" font-size="24" fill="#111" textLength="49.1" lengthAdjust="spacingAndGlyphs">13%</text>
<rect x="249.7" y="1305.21" width="19.90" height="29.4" fill="#6c7742"/>
<text x="302.4" y="1330.01" font-family="Liberation Sans" font-size="24" fill="#111" textLength="44.0" lengthAdjust="spacingAndGlyphs">Irak</text>
<text x="202.00" y="1330.01" font-family="Liberation Sans" font-weight="bold" font-size="24" fill="#111" textLength="37.1" lengthAdjust="spacingAndGlyphs">8%</text>
<rect x="259.7" y="1358.38" width="9.90" height="29.4" fill="#6c7742"/>
<text x="302.4" y="1383.18" font-family="Liberation Sans" font-size="24" fill="#111" textLength="70.7" lengthAdjust="spacingAndGlyphs">Ghana</text>
<text x="209.70" y="1383.18" font-family="Liberation Sans" font-weight="bold" font-size="24" fill="#111" textLength="37.0" lengthAdjust="spacingAndGlyphs">4%</text>
<rect x="259.7" y="1411.55" width="9.90" height="29.4" fill="#6c7742"/>
<text x="302.4" y="1436.35" font-family="Liberation Sans" font-size="24" fill="#111" textLength="53.0" lengthAdjust="spacingAndGlyphs">Togo</text>
<text x="209.70" y="1436.35" font-family="Liberation Sans" font-weight="bold" font-size="24" fill="#111" textLength="37.0" lengthAdjust="spacingAndGlyphs">4%</text>
<rect x="264.7" y="1464.72" width="4.90" height="29.4" fill="#6c7742"/>
<text x="302.4" y="1489.52" font-family="Liberation Sans" font-size="24" fill="#111" textLength="61.3" lengthAdjust="spacingAndGlyphs">Niger</text>
<text x="209.70" y="1489.52" font-family="Liberation Sans" font-weight="bold" font-size="24" fill="#111" textLength="37.0" lengthAdjust="spacingAndGlyphs">2%</text>
<rect x="267.3" y="1517.89" width="2.30" height="29.4" fill="#6c7742"/>
<text x="302.4" y="1542.69" font-family="Liberation Sans" font-size="24" fill="#111" textLength="114.7" lengthAdjust="spacingAndGlyphs">Cameroun</text>
<text x="211.00" y="1542.69" font-family="Liberation Sans" font-weight="bold" font-size="24" fill="#111" textLength="34.7" lengthAdjust="spacingAndGlyphs">1%</text>
<rect x="267.3" y="1571.06" width="2.30" height="29.4" fill="#6c7742"/>
<text x="302.4" y="1595.86" font-family="Liberation Sans" font-size="24" fill="#111" textLength="97.3" lengthAdjust="spacingAndGlyphs">Ouganda</text>
<text x="211.00" y="1595.86" font-family="Liberation Sans" font-weight="bold" font-size="24" fill="#111" textLength="34.7" lengthAdjust="spacingAndGlyphs">1%</text>
<rect x="514" y="1354.5" width="498.5" height="246.5" fill="#fff" stroke="#a3a3a3" stroke-width="3.2"/>
<rect x="531.3" y="1369.60" width="20" height="19.3" fill="#9a222a"/>
<text x="566.4" y="1388.70" font-family="Liberation Sans" font-size="24" fill="#111" textLength="146.6" lengthAdjust="spacingAndGlyphs">Plus de 80 %</text>
<rect x="531.3" y="1402.25" width="20" height="19.3" fill="#be6d33"/>
<text x="566.4" y="1421.35" font-family="Liberation Sans" font-size="24" fill="#111" textLength="92.7" lengthAdjust="spacingAndGlyphs">51-80 %</text>
<rect x="531.3" y="1434.90" width="20" height="19.3" fill="#c4a32f"/>
<text x="566.4" y="1454.00" font-family="Liberation Sans" font-size="24" fill="#111" textLength="94.5" lengthAdjust="spacingAndGlyphs">26-50 %</text>
<rect x="531.3" y="1467.55" width="20" height="19.3" fill="#465576"/>
<text x="566.4" y="1486.65" font-family="Liberation Sans" font-size="24" fill="#111" textLength="92.0" lengthAdjust="spacingAndGlyphs">10-25 %</text>
<rect x="531.3" y="1500.20" width="20" height="19.3" fill="#6e7843"/>
<text x="566.4" y="1519.30" font-family="Liberation Sans" font-size="24" fill="#111" textLength="162.0" lengthAdjust="spacingAndGlyphs">Moins de 10 %</text>
<rect x="531.3" y="1532.85" width="20" height="19.3" fill="#c7c8ca" stroke="#8a8a8a" stroke-width="1"/>
<text x="566.4" y="1551.95" font-family="Liberation Sans" font-size="24" fill="#111" textLength="426.0" lengthAdjust="spacingAndGlyphs">L’excision n’est pas particulièrement</text>
<text x="566.4" y="1582.5" font-family="Liberation Sans" font-size="24" fill="#111" textLength="280" lengthAdjust="spacingAndGlyphs">pratiquée dans ces pays</text>
<text x="3.6" y="1713.4" font-family="Liberation Sans" font-weight="bold" font-size="27" fill="#111" textLength="80" lengthAdjust="spacingAndGlyphs">Fig. 2 :</text>
<text x="92" y="1713.4" font-family="Liberation Sans" font-size="27" fill="#111" textLength="1006" lengthAdjust="spacingAndGlyphs">Proportion de femmes excisées par pays d’Afrique et du Yémen (source : Unicef).</text>
</svg>
</body></html>
